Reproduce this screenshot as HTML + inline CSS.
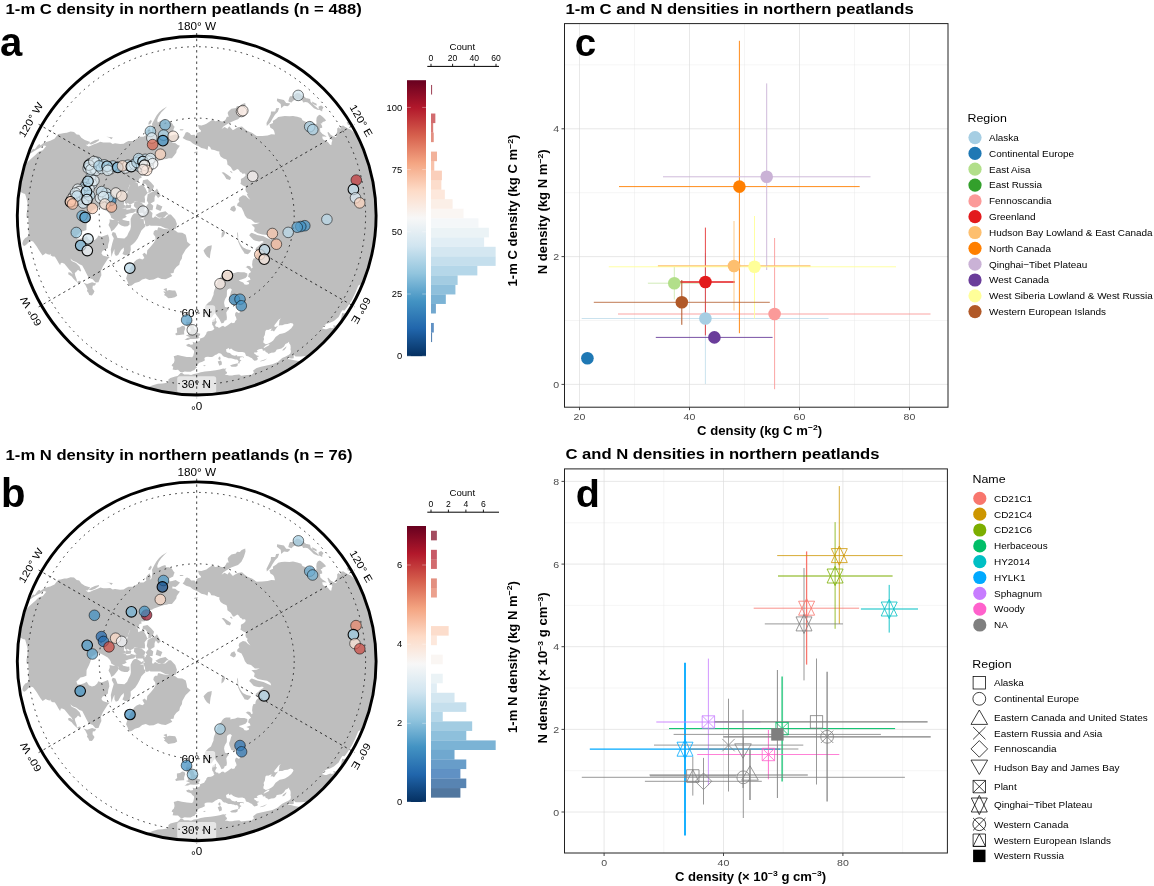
<!DOCTYPE html>
<html lang="en"><head><meta charset="utf-8"><title>Northern peatlands C and N densities</title>
<style>html,body{margin:0;padding:0;background:#fff}svg{display:block}text{filter:grayscale(1)}</style></head>
<body>
<svg width="1154" height="886" viewBox="0 0 1154 886" font-family="'Liberation Sans', Arial, Helvetica, sans-serif">
<defs>
<linearGradient id="rdbu" x1="0" y1="1" x2="0" y2="0"><stop offset="0%" stop-color="#053061"/><stop offset="10%" stop-color="#2166ac"/><stop offset="20%" stop-color="#4393c3"/><stop offset="30%" stop-color="#92c5de"/><stop offset="40%" stop-color="#d1e5f0"/><stop offset="50%" stop-color="#f7f7f7"/><stop offset="60%" stop-color="#fddbc7"/><stop offset="70%" stop-color="#f4a582"/><stop offset="80%" stop-color="#d6604d"/><stop offset="90%" stop-color="#b2182b"/><stop offset="100%" stop-color="#67001f"/></linearGradient>
<clipPath id="mapclip"><circle cx="0" cy="0" r="179.3"/></clipPath>
<g id="land"><g clip-path="url(#mapclip)"><path d="M-55.8,182.4L-53.2,179.7L-51.6,176.4L-53.2,174.1L-49.3,171.9L-43.9,169.7L-38.8,168.2L-34.2,167.9L-29.5,167.1L-28.3,165.6L-28.3,163.8L-26.3,162.3L-21.5,161.0L-19.1,160.5L-16.6,157.9L-16.3,157.3L-14.6,157.3L-12.5,158.9L-8.3,158.9L-5.6,159.4L-2.8,158.3L0.0,158.0L4.1,156.7L8.2,155.9L13.6,155.5L19.0,154.6L23.0,154.0L26.4,152.9L27.8,153.2L29.7,152.7L28.6,154.3L29.2,156.0L30.4,156.4L30.1,157.9L28.1,159.2L30.4,159.4L32.5,159.9L35.5,160.0L37.4,159.4L42.6,159.0L44.4,160.2L50.3,159.4L54.8,159.2L57.2,157.1L56.4,154.9L60.0,152.3L64.2,151.2L70.0,150.0L75.7,148.6L81.1,146.3L83.3,144.3L85.5,142.4L89.0,140.8L92.2,139.2L93.9,137.6L94.2,135.5L93.8,134.0L94.0,131.8L93.7,129.4L92.5,127.8L92.3,126.2L90.9,127.4L88.7,128.5L87.3,130.9L84.7,132.9L80.4,133.8L79.5,134.4L79.5,135.5L77.5,137.0L74.5,137.2L71.7,138.3L70.8,137.1L68.9,136.4L68.5,135.0L66.2,135.1L66.0,134.0L64.9,133.1L62.3,133.6L60.0,134.9L61.1,136.1L59.5,136.8L57.7,136.6L57.4,137.9L59.0,138.9L60.0,139.9L62.5,140.4L61.4,141.1L60.1,141.6L61.1,142.6L60.7,144.5L59.4,144.8L57.7,145.1L56.0,143.7L55.3,142.7L53.6,142.0L51.9,141.0L49.3,140.1L48.5,137.8L47.7,136.9L45.6,136.3L41.7,136.4L38.9,135.7L36.6,134.7L34.4,133.0L32.4,134.0L32.3,132.3L29.4,133.7L29.6,135.9L30.6,136.9L33.2,137.3L35.3,139.4L38.1,140.1L40.5,139.4L40.3,140.6L43.0,140.7L45.8,140.8L47.3,141.5L47.0,142.2L45.7,141.5L43.4,141.8L42.9,143.8L44.8,144.8L43.2,145.9L42.7,147.8L41.6,147.9L41.5,146.6L42.0,145.6L40.4,143.8L38.5,143.9L37.1,143.3L36.2,143.1L34.3,142.7L31.9,142.7L30.7,142.1L28.8,141.3L27.4,141.1L26.0,140.2L25.3,139.2L24.4,138.1L23.0,137.6L21.6,137.6L20.0,138.8L18.4,139.5L17.2,140.4L15.4,141.5L13.4,141.3L11.1,141.2L9.1,141.4L7.7,142.4L8.0,143.8L8.1,144.9L5.6,146.2L2.6,147.1L1.8,147.8L0.0,149.8L-0.8,150.7L0.5,152.0L-1.3,153.0L-2.2,154.5L-4.3,155.1L-6.0,156.2L-9.5,156.1L-12.0,155.9L-14.6,156.9L-16.4,156.5L-17.4,155.4L-18.7,154.2L-21.4,154.3L-24.1,153.9L-23.4,151.2L-25.1,150.1L-24.4,148.7L-22.8,147.2L-22.2,145.0L-22.4,142.9L-23.0,140.7L-20.4,140.0L-18.9,139.5L-14.8,140.4L-9.9,141.3L-7.4,141.5L-4.5,141.6L-3.4,140.2L-2.9,137.9L-2.6,136.4L-2.8,134.9L-4.7,133.4L-5.1,132.4L-6.4,131.6L-9.6,130.6L-10.6,129.3L-7.8,128.2L-6.1,129.1L-4.5,128.9L-3.6,128.7L-4.0,126.1L-2.4,126.9L0.2,126.6L3.3,125.0L3.4,122.9L5.3,122.3L7.4,121.4L8.4,119.8L9.5,118.3L9.8,116.9L11.1,115.7L14.2,115.4L16.1,114.6L17.2,113.6L17.7,113.0L17.0,112.2L16.7,110.6L15.5,109.1L15.4,106.5L15.8,104.7L18.0,102.9L19.2,102.4L19.0,104.5L19.2,105.9L20.4,106.0L19.4,107.6L18.6,108.9L18.5,110.3L19.6,111.2L21.5,111.5L21.9,112.5L23.7,111.6L24.6,110.8L26.4,110.1L28.2,111.4L31.4,109.4L34.7,106.9L36.2,107.6L38.1,106.9L38.4,105.6L39.9,103.9L39.3,101.7L38.3,99.7L38.6,97.4L40.0,96.2L41.7,97.4L43.2,97.0L43.5,95.9L42.5,94.2L42.4,93.0L40.4,92.9L39.7,91.6L41.4,89.9L43.3,88.7L46.5,87.4L47.4,85.5L49.2,84.5L47.0,84.8L45.7,84.1L43.6,85.6L41.0,87.8L38.2,90.0L36.4,89.2L34.7,88.6L33.8,86.4L32.7,83.9L32.4,81.7L33.4,79.4L34.4,75.6L35.2,74.2L34.0,73.0L32.8,72.9L31.2,73.6L30.3,75.0L30.2,76.7L30.2,78.7L30.0,81.0L28.6,83.1L27.7,85.3L27.4,87.4L28.0,90.3L28.3,91.4L30.7,91.9L32.1,93.6L30.9,94.6L29.6,96.9L29.9,99.5L30.2,101.8L29.9,104.3L27.8,105.2L27.3,107.0L24.9,107.9L24.5,107.1L23.8,105.8L22.9,104.0L21.7,102.2L20.0,99.9L19.2,98.6L18.1,96.7L17.9,98.2L16.6,99.3L15.2,101.6L13.0,102.5L10.7,101.6L9.8,100.2L9.0,98.6L8.7,95.9L8.2,94.2L8.0,91.8L8.7,90.2L10.1,88.6L11.5,87.2L12.9,86.1L14.3,85.2L15.0,83.5L15.8,81.5L16.8,79.1L17.0,76.8L17.5,74.8L18.4,72.6L18.7,70.6L19.7,68.7L20.4,66.8L21.1,64.9L21.9,63.7L23.2,62.2L24.5,60.6L25.6,58.8L27.4,56.9L29.3,56.3L31.1,56.1L33.7,56.1L33.7,58.3L35.3,57.7L37.4,57.5L38.5,57.1L40.9,56.3L44.2,56.6L47.6,56.7L50.6,57.8L50.6,60.3L48.8,62.5L44.8,63.9L42.0,64.7L43.4,65.6L46.5,66.9L47.9,68.9L50.2,69.2L52.4,68.3L52.1,66.6L49.6,65.8L51.7,65.0L53.8,64.1L53.1,62.2L51.4,61.2L52.2,58.0L54.4,56.4L52.7,54.2L50.1,51.9L48.8,51.8L51.0,50.1L53.4,50.7L54.8,52.9L56.0,52.2L55.4,49.0L55.8,45.2L56.8,42.8L58.6,42.6L58.9,40.5L59.7,38.8L61.5,37.0L60.8,35.1L58.9,32.6L62.0,30.2L62.8,29.3L64.9,27.6L67.1,26.4L65.5,25.2L62.5,25.9L59.0,25.1L56.9,24.4L54.0,21.3L52.5,19.6L53.8,18.0L55.1,17.1L60.5,19.3L66.8,20.7L71.1,22.8L74.5,24.2L73.7,21.8L70.4,19.5L65.6,18.8L61.0,17.7L57.3,15.3L57.9,12.8L57.8,11.8L54.7,9.0L59.7,8.4L63.1,7.2L58.2,7.1L54.3,3.8L50.4,2.6L48.2,0.0L46.7,-4.1L44.8,-7.9L40.3,-10.0L40.8,-12.1L42.7,-13.9L41.9,-16.1L42.8,-18.2L46.2,-20.4L48.9,-19.8L51.1,-17.6L53.7,-15.9L51.4,-18.7L50.1,-21.3L51.1,-22.2L49.2,-24.0L48.7,-26.4L49.4,-28.5L46.2,-30.0L43.7,-31.8L44.2,-33.3L44.2,-36.5L47.3,-38.3L49.0,-40.4L48.4,-42.1L45.6,-41.8L45.1,-42.8L43.5,-43.5L42.0,-45.9L40.6,-46.7L37.7,-44.9L36.3,-44.8L34.0,-48.6L30.7,-51.1L30.5,-53.9L29.8,-56.1L26.7,-57.2L23.9,-59.2L22.6,-62.1L22.7,-64.1L20.9,-64.3L17.6,-65.7L14.6,-66.0L13.3,-68.6L11.6,-69.5L10.8,-65.5L8.2,-66.8L4.7,-67.5L1.2,-69.9L0.0,-70.2L-3.8,-72.0L-6.5,-74.3L-10.6,-75.5L-14.1,-77.7L-12.6,-79.6L-11.0,-83.2L-9.5,-83.7L-7.2,-82.7L-5.6,-80.7L-2.1,-80.8L-0.7,-78.7L-0.0,-82.4L1.4,-83.0L2.9,-83.6L3.6,-83.3L4.4,-84.8L2.3,-87.0L1.3,-90.6L4.7,-90.2L8.0,-91.2L9.7,-91.9L12.3,-93.7L16.1,-96.2L18.3,-94.3L22.8,-94.8L25.2,-94.2L27.0,-94.0L28.9,-96.2L30.2,-98.8L32.1,-98.8L30.9,-102.5L31.9,-104.3L34.7,-106.9L39.2,-107.7L40.3,-109.6L43.1,-109.4L45.0,-111.3L48.5,-112.7L48.8,-109.7L47.2,-104.5L44.7,-99.5L41.3,-96.3L38.5,-95.3L34.5,-93.7L30.7,-91.6L26.7,-89.1L24.8,-86.6L27.9,-88.5L30.8,-86.9L32.5,-89.4L36.2,-85.4L37.5,-86.2L41.2,-88.4L45.3,-89.0L48.0,-86.6L50.8,-84.6L55.7,-82.5L59.9,-79.5L65.7,-79.7L70.9,-80.2L74.6,-81.4L78.3,-81.1L77.4,-84.5L76.3,-86.3L73.7,-87.8L72.7,-91.1L76.4,-92.6L76.1,-94.6L79.6,-96.9L81.5,-98.6L84.7,-99.2L88.1,-99.6L92.7,-99.4L96.3,-99.7L100.6,-98.8L104.6,-97.6L105.8,-95.3L108.3,-94.2L109.7,-93.7L112.2,-93.5L113.6,-94.3L116.6,-92.7L118.7,-91.4L119.9,-92.0L119.6,-94.8L119.9,-97.8L121.0,-99.7L122.7,-100.8L124.0,-100.4L126.2,-98.6L128.2,-96.6L129.4,-95.0L127.8,-94.2L125.8,-93.5L125.5,-92.2L123.9,-92.3L125.4,-89.5L125.5,-87.9L123.3,-87.3L123.5,-85.2L123.5,-84.0L125.8,-81.7L128.8,-79.9L130.0,-78.7L128.0,-79.1L125.5,-79.0L126.1,-76.4L129.2,-74.6L131.2,-73.6L133.4,-70.9L134.7,-70.7L135.0,-73.3L135.7,-75.2L133.8,-77.2L132.3,-78.9L130.7,-83.2L131.7,-83.6L134.2,-80.6L136.2,-79.6L138.5,-78.4L139.8,-78.5L139.2,-81.4L140.5,-83.7L140.5,-87.1L141.9,-88.3L143.9,-86.4L143.4,-89.6L145.1,-89.6L146.4,-90.0L148.6,-88.6L150.4,-87.6L152.4,-86.6L153.9,-86.0L156.4,-83.9L158.9,-81.7L160.6,-80.1L163.0,-76.0L164.6,-74.0L165.6,-72.0L168.0,-67.9L170.3,-63.7L171.5,-63.5L171.3,-61.7L170.9,-60.5L172.1,-56.9L174.1,-53.2L175.2,-52.6L177.2,-50.8L182.4,-55.8L190.0,-16.6L186.9,-14.1L184.9,-14.6L183.5,-11.2L182.2,-8.0L181.3,-6.3L180.1,-5.0L180.4,-3.1L180.8,-0.9L181.0,3.2L181.2,6.3L181.4,9.5L182.4,10.2L183.0,12.8L183.3,16.0L184.1,19.4L184.9,26.0L185.3,31.0L187.8,33.1L183.8,51.0L179.7,53.2L176.1,54.5L173.8,54.1L172.2,54.3L173.3,55.7L172.5,59.4L171.1,62.3L168.6,64.7L168.8,61.4L166.8,65.7L164.8,68.3L162.9,69.2L161.5,70.2L158.6,77.3L155.2,84.3L151.0,90.7L147.9,94.9L145.7,94.6L144.3,96.6L141.9,101.3L137.2,105.3L132.8,107.5L129.7,108.1L126.9,110.3L125.5,113.0L128.3,113.6L129.8,113.6L133.6,112.1L135.1,112.6L137.3,112.0L136.5,109.7L138.9,110.1L141.1,108.3L143.9,104.5L144.9,100.4L145.5,97.4L147.3,97.9L149.4,97.0L152.5,93.1L155.7,90.6L156.2,94.6L155.8,98.5L154.2,104.0L156.2,109.4L131.3,138.4L126.8,137.4L121.0,139.2L114.7,140.6L109.7,140.4L104.3,140.9L98.8,141.0L97.1,139.2L97.0,142.2L97.0,142.7L95.0,143.0L91.1,142.4L90.9,143.3L94.1,143.8L97.6,144.7L101.8,145.4L104.1,145.4L109.2,144.9L111.7,146.7L115.4,145.1L120.0,148.2L65.2,179.2L0.0,190.7ZM-189.3,-23.2L-186.7,-19.6L-184.6,-29.2L-182.1,-37.1L-179.1,-44.7L-176.1,-48.8L-175.0,-47.9L-172.5,-49.5L-168.1,-54.6L-164.5,-57.9L-161.6,-60.4L-158.1,-63.9L-153.9,-65.3L-150.4,-69.5L-152.6,-70.2L-156.4,-68.0L-159.8,-66.2L-163.1,-64.2L-166.2,-62.1L-169.0,-59.8L-168.8,-61.4L-166.3,-63.8L-163.6,-66.8L-161.9,-66.4L-158.7,-70.7L-157.0,-71.5L-156.3,-70.2L-152.7,-72.8L-148.8,-74.2L-146.4,-74.9L-142.2,-76.9L-138.5,-81.6L-136.1,-81.8L-132.4,-82.7L-129.9,-82.8L-126.1,-84.1L-122.7,-83.7L-120.0,-81.2L-117.5,-80.8L-115.3,-77.8L-111.9,-75.5L-106.4,-73.7L-109.0,-70.8L-111.1,-70.8L-108.3,-69.0L-106.4,-69.6L-103.3,-71.0L-99.7,-72.4L-96.3,-73.9L-93.5,-73.1L-90.1,-73.0L-86.4,-73.2L-84.0,-71.7L-81.7,-72.3L-76.6,-71.5L-73.1,-71.8L-70.8,-73.3L-68.2,-74.5L-63.7,-74.6L-60.0,-76.8L-56.3,-78.9L-53.2,-78.9L-50.4,-80.7L-50.9,-83.1L-49.5,-85.7L-47.2,-88.0L-45.8,-84.4L-47.0,-81.4L-45.1,-83.1L-44.7,-86.0L-44.3,-88.8L-44.7,-91.6L-42.6,-95.7L-40.3,-99.8L-37.6,-103.3L-34.5,-106.1L-29.6,-109.0L-32.5,-106.2L-35.5,-103.1L-38.1,-99.2L-39.5,-95.5L-39.0,-93.2L-37.0,-94.0L-34.6,-95.2L-31.3,-96.3L-30.6,-94.1L-27.9,-94.0L-24.9,-92.8L-23.3,-90.1L-22.1,-88.8L-23.1,-86.4L-23.5,-84.7L-25.6,-83.8L-28.3,-82.3L-27.4,-79.7L-24.5,-80.3L-21.0,-81.3L-19.2,-80.1L-16.7,-78.8L-19.0,-76.1L-21.3,-74.4L-24.3,-74.8L-24.4,-72.8L-21.5,-72.5L-18.9,-70.6L-16.8,-69.8L-18.2,-67.8L-20.0,-65.3L-20.4,-62.8L-22.5,-60.1L-24.8,-57.4L-28.0,-57.3L-30.1,-56.6L-32.5,-56.4L-36.0,-55.4L-39.2,-54.0L-42.8,-52.8L-44.8,-51.5L-47.7,-51.1L-47.9,-48.7L-49.1,-47.4L-50.0,-45.1L-50.8,-42.7L-51.4,-40.9L-52.1,-40.0L-55.6,-39.7L-55.0,-37.8L-57.3,-37.2L-58.0,-34.8L-61.7,-32.8L-63.4,-30.2L-66.2,-29.5L-66.8,-31.1L-68.3,-27.6L-68.9,-25.1L-71.0,-23.1L-73.3,-23.1L-70.5,-21.5L-69.5,-19.3L-70.9,-17.7L-72.1,-15.3L-72.6,-12.8L-72.9,-10.9L-70.8,-9.9L-71.6,-8.8L-72.0,-7.6L-74.9,-7.2L-69.5,-7.3L-66.3,-7.5L-62.2,-6.5L-60.4,-4.8L-63.4,-2.8L-66.7,-2.3L-68.3,-1.8L-71.5,-0.6L-69.9,1.2L-72.1,2.5L-74.6,3.3L-73.5,4.5L-69.0,5.4L-67.4,5.3L-67.1,8.8L-69.1,10.6L-72.2,10.8L-75.5,9.9L-78.0,8.2L-78.2,5.5L-80.7,4.9L-82.9,3.6L-85.5,2.2L-86.1,0.0L-87.0,-1.5L-89.0,-3.9L-92.0,-5.6L-95.7,-7.5L-100.1,-8.4L-100.7,-7.4L-105.2,-4.6L-106.2,0.0L-107.6,3.8L-110.1,8.7L-110.3,14.5L-113.6,15.6L-116.2,16.3L-118.6,18.8L-120.3,20.1L-119.2,23.2L-116.4,23.1L-112.5,21.9L-110.0,20.4L-107.8,23.9L-104.7,25.1L-101.9,24.5L-99.5,22.1L-98.4,20.0L-95.2,21.1L-92.4,20.1L-88.7,18.8L-87.7,21.9L-87.4,25.1L-88.5,28.8L-88.8,32.3L-91.3,34.1L-94.1,35.2L-95.3,37.6L-93.8,39.8L-90.1,41.0L-86.9,41.5L-89.0,43.4L-91.7,47.7L-93.8,50.9L-95.7,55.2L-95.3,59.6L-96.8,62.9L-98.2,66.7L-101.2,67.0L-104.0,63.7L-107.9,62.3L-110.0,58.5L-112.4,53.6L-114.5,49.8L-117.2,48.6L-120.6,46.3L-123.8,45.1L-126.4,43.0L-125.0,45.5L-120.7,47.5L-117.1,50.9L-115.5,55.1L-116.4,56.0L-118.7,54.1L-120.1,56.0L-121.9,57.4L-121.5,59.8L-120.0,63.8L-119.8,66.4L-117.4,65.1L-115.5,65.9L-117.1,68.1L-120.0,66.5L-123.5,62.9L-125.0,61.0L-128.5,58.6L-128.3,56.6L-126.4,56.8L-123.8,59.0L-125.5,55.9L-127.4,54.1L-129.8,51.1L-132.3,48.1L-134.6,47.1L-135.8,47.3L-136.6,49.7L-138.1,47.5L-139.9,44.1L-141.8,41.2L-142.5,40.9L-144.1,41.0L-146.2,39.7L-145.8,38.2L-147.1,39.1L-149.2,38.6L-151.1,37.7L-152.0,38.5L-154.1,39.8L-155.9,37.4L-158.0,34.2L-159.8,31.1L-161.8,28.5L-163.7,25.9L-166.1,25.1L-168.7,27.3L-170.5,29.1L-172.2,30.4L-173.8,29.7L-174.3,27.6L-173.5,25.0L-171.5,22.3L-169.5,21.4L-168.1,19.2L-168.0,16.8L-168.7,13.3L-167.9,10.3L-168.3,5.9L-168.5,1.5L-170.2,2.1L-170.2,-1.5L-169.4,-5.9L-169.0,-11.2L-169.5,-14.2L-170.4,-17.9L-171.6,-21.7L-173.8,-22.3L-176.5,-23.9L-178.7,-24.5L-180.9,-22.8L-182.9,-20.2L-184.1,-16.1L-184.7,-12.9L-184.7,-6.4L-184.1,-3.2L-182.6,-1.6L-181.9,-1.0L-181.4,4.7L-181.2,9.5L-182.4,10.2L-184.2,8.0L-186.4,6.5L-190.7,5.0ZM-38.1,11.7L-32.9,13.3L-29.2,13.6L-25.4,13.5L-21.4,15.0L-18.9,17.0L-14.4,17.2L-11.0,19.1L-10.1,22.6L-9.5,26.1L-7.5,27.8L-6.1,28.9L-9.1,31.9L-11.0,33.8L-12.7,36.8L-14.4,39.7L-14.8,43.0L-16.7,45.9L-17.4,49.1L-20.3,51.5L-22.4,54.2L-23.2,57.4L-26.3,57.8L-24.4,60.4L-26.8,61.7L-31.1,63.7L-35.1,63.3L-38.7,61.9L-43.1,63.9L-47.5,64.3L-50.9,62.8L-54.5,63.8L-57.5,66.1L-61.8,67.5L-65.1,69.8L-67.9,70.3L-68.9,66.5L-70.6,62.9L-69.6,59.5L-68.0,55.7L-66.6,52.6L-64.7,50.0L-62.5,46.3L-60.1,44.2L-57.1,43.0L-54.3,44.0L-52.3,42.4L-54.3,38.7L-52.2,37.2L-50.0,39.1L-49.4,34.6L-45.9,31.0L-43.1,27.5L-41.2,24.3L-41.4,21.1L-43.4,18.4L-42.8,15.6L-40.8,14.1L-39.5,14.8L-38.7,12.2ZM-33.3,73.7L-30.0,72.4L-29.6,75.2L-27.5,74.4L-24.3,74.8L-21.5,75.0L-20.3,77.3L-19.5,80.1L-21.9,81.7L-25.2,82.3L-28.4,82.6L-30.9,80.4L-32.8,79.3L-31.6,78.1L-33.5,76.0L-30.6,75.8ZM-12.4,124.5L-8.7,124.3L-6.5,123.3L-3.2,123.5L0.6,123.2L3.0,122.2L1.7,121.4L3.3,119.5L3.5,118.1L0.6,117.4L0.4,116.0L-0.4,114.6L-2.4,112.9L-3.1,110.4L-4.2,109.0L-5.7,108.6L-4.7,107.5L-3.7,105.3L-3.3,104.4L-6.4,104.0L-7.3,104.2L-5.7,101.7L-8.9,101.2L-10.0,103.4L-10.7,105.7L-10.4,108.0L-10.8,110.2L-9.2,109.8L-9.8,112.0L-6.8,111.9L-6.0,114.5L-6.1,116.1L-9.1,116.2L-8.8,117.6L-8.3,119.0L-10.9,119.8L-8.4,120.8L-6.4,121.8L-7.5,122.0L-9.6,122.3L-11.3,124.0ZM-12.5,118.9L-12.6,115.9L-11.4,112.7L-12.2,110.6L-14.5,110.1L-16.7,111.7L-19.8,112.3L-19.8,114.8L-19.5,116.8L-21.5,118.1L-20.7,119.6L-17.4,119.3L-13.6,119.0ZM6.8,34.9L8.8,32.7L11.1,30.6L15.1,29.6L14.7,33.1L13.9,36.3L13.4,40.0L13.1,42.9L10.2,41.0L8.1,38.0ZM47.7,37.9L51.2,38.6L53.4,36.7L54.4,34.6L50.0,33.7L46.2,31.7L43.7,28.4L41.4,23.9L41.5,20.2L41.1,16.2L40.4,18.0L40.8,21.7L41.4,25.9L42.9,29.5L45.0,33.3L47.5,37.1ZM37.0,-3.9L33.3,-5.9L34.5,-8.6L37.6,-10.1L39.3,-6.9L38.6,-4.7ZM33.3,-35.7L29.7,-36.7L27.3,-40.5L24.9,-43.1L27.1,-43.4L31.5,-40.3L34.4,-38.2ZM35.6,-42.4L33.1,-44.0L34.3,-44.7L35.6,-43.2ZM1.7,-63.5L-2.2,-62.2L-2.8,-63.4L0.0,-64.1ZM24.7,22.2L25.0,17.5L26.9,14.3L28.7,16.6L26.7,20.8ZM70.1,-89.7L69.8,-92.6L71.7,-96.3L74.0,-101.1L74.3,-104.2L78.5,-104.2L79.4,-107.3L82.5,-107.5L81.1,-103.8L78.4,-101.1L75.6,-96.7L73.6,-93.2L71.7,-91.2ZM93.3,-112.4L89.5,-112.5L87.2,-115.7L80.4,-117.0L80.2,-114.5L84.0,-111.5L84.5,-107.4L87.3,-109.8L90.8,-109.4L92.7,-110.5ZM91.6,-114.3L92.4,-117.4L93.3,-119.4L96.7,-119.4L98.3,-121.3L100.1,-122.7L102.7,-122.4L104.4,-120.9L106.2,-120.1L109.5,-117.4L110.3,-117.4L113.4,-116.6L113.9,-113.9L116.8,-110.9L120.1,-108.2L122.0,-106.1L121.9,-109.0L124.5,-110.2L126.8,-108.3L125.6,-106.2L125.5,-104.2L122.5,-105.8L121.4,-105.6L117.2,-107.4L114.2,-110.3L111.1,-113.1L108.9,-113.6L106.3,-113.2L105.9,-114.8L102.6,-116.0L99.1,-116.0L96.3,-114.8L94.9,-113.1L92.7,-113.7ZM119.9,-109.9L115.9,-111.9L115.2,-114.0L117.2,-113.2L119.9,-111.8ZM151.2,-90.9L149.9,-93.7L152.5,-93.4L155.3,-92.6L155.1,-90.3L153.1,-90.2ZM-113.1,67.1L-109.6,68.5L-104.6,66.6L-100.6,67.9L-101.8,70.0L-103.9,70.1L-104.2,72.9L-102.2,75.6L-103.2,77.8L-104.8,79.8L-107.5,79.5L-108.3,77.2L-109.8,75.5L-109.2,73.7L-111.3,69.5ZM-108.0,-71.5L-105.2,-73.7L-101.8,-75.3L-97.7,-76.4L-97.8,-75.0L-101.6,-72.5L-105.4,-71.1ZM-90.6,-78.8L-87.2,-78.5L-83.8,-78.2L-85.4,-76.4L-87.5,-78.2ZM-45.7,-95.9L-47.8,-93.9L-48.5,-91.2L-46.5,-91.3L-44.9,-94.0ZM-12.9,-86.4L-16.8,-86.3L-16.9,-85.4L-14.3,-85.2ZM-180.2,15.8L-178.2,21.9L-176.8,29.6L-176.2,37.5L-176.4,44.0L-176.1,49.8L-179.0,39.7L-178.4,37.9L-178.3,31.4L-178.5,25.1L-180.1,18.9ZM-85.3,41.5L-85.9,33.8L-84.4,27.6L-82.9,22.7L-85.0,18.8L-84.0,16.5L-81.3,17.1L-79.2,22.5L-75.4,22.6L-72.3,22.9L-69.6,20.5L-68.2,17.1L-66.4,13.8L-65.8,10.9L-66.0,7.5L-66.1,3.4L-64.5,-0.0L-62.7,-2.1L-58.2,-2.7L-54.0,-2.8L-52.0,1.1L-52.3,1.6L-56.8,3.2L-52.9,3.4L-51.8,6.0L-51.6,7.7L-51.3,11.0L-53.2,12.7L-55.3,15.0L-57.0,18.7L-59.1,22.8L-61.4,26.2L-63.7,28.3L-66.1,30.2L-65.9,34.1L-67.1,38.2L-68.0,39.5L-71.6,39.6L-74.3,38.3L-72.8,34.8L-72.9,31.8L-75.7,34.4L-78.5,39.4L-80.8,40.4L-82.2,38.1L-82.3,33.4L-84.2,38.0ZM-80.9,3.4L-78.0,6.6L-78.9,9.2L-82.7,14.0L-85.4,15.8L-86.3,12.8L-88.2,9.3L-87.0,6.4L-87.1,3.7L-83.8,4.4ZM-71.7,-12.5L-71.8,-17.5L-69.6,-21.9L-69.0,-25.1L-66.9,-30.4L-62.6,-32.8L-59.1,-33.2L-58.4,-29.1L-54.1,-31.0L-51.7,-32.1L-48.2,-27.9L-48.3,-23.7L-52.1,-19.0L-51.7,-16.1L-51.8,-12.8L-54.9,-13.0L-61.1,-13.9L-66.0,-11.3L-68.4,-10.3ZM-49.2,-36.4L-53.8,-35.4L-54.2,-31.7L-51.2,-27.0L-49.5,-23.3L-46.4,-23.1L-43.7,-26.2L-42.6,-29.5L-45.6,-33.0ZM-62.1,-14.3L-62.9,-9.7L-58.8,-5.3L-52.5,-6.0L-51.1,-9.2L-55.2,-12.9ZM-61.6,-6.7L-60.5,-2.8L-54.9,1.0L-52.0,-2.3L-52.2,-5.8L-56.9,-6.2ZM-69.1,-12.6L-71.9,-8.7L-70.0,-5.9L-66.3,-6.3L-65.4,-10.4ZM-48.6,-7.2L-52.7,-2.9L-53.2,1.8L-52.7,7.7L-50.1,10.8L-47.2,9.8L-44.7,5.7L-44.6,0.5L-44.2,-2.6L-46.6,-4.8ZM-47.5,-0.1L-47.9,5.6L-46.4,10.1L-40.3,10.1L-36.2,10.3L-31.4,12.6L-26.7,13.6L-21.0,13.4L-19.8,8.4L-21.4,3.8L-25.8,-1.0L-29.8,-1.0L-32.5,1.7L-37.6,2.8L-41.6,0.6L-43.5,2.4ZM-31.2,-4.3L-27.8,-1.1L-31.4,2.2L-38.2,2.0L-41.3,-0.6L-36.7,-3.1ZM-43.8,-24.2L-49.0,-21.4L-49.9,-15.2L-47.8,-11.5L-45.2,-12.5L-42.2,-14.4L-42.1,-18.4L-40.2,-22.4ZM-47.5,-13.3L-50.9,-8.9L-49.0,-5.4L-44.2,-5.3L-43.4,-9.9ZM-39.7,-27.1L-42.9,-23.6L-38.6,-17.7L-36.0,-19.8ZM-39.8,-11.7L-41.0,-6.5L-36.2,-4.7L-34.3,-9.2ZM-50.6,-6.4L-50.9,-2.5L-47.9,-2.9L-47.7,-5.4ZM33.3,150.0L35.8,149.0L41.2,147.6L40.8,150.3L39.1,151.2L34.9,151.1ZM21.0,145.9L23.7,144.8L25.0,146.2L25.2,149.0L22.7,150.1L21.9,148.2ZM21.5,142.4L23.3,140.7L23.9,142.9L23.4,144.4L22.0,143.9ZM63.6,145.5L67.2,144.1L70.6,142.8L67.6,144.9L63.8,146.0ZM85.4,135.0L86.6,133.3L89.8,130.7L89.3,132.4L87.4,134.6ZM6.3,150.1L8.4,149.4L8.9,150.2L7.4,150.7Z" fill="#bebebe"/><path d="M71.3,128.1L74.5,126.4L76.5,124.9L78.9,121.5L83.0,118.5L85.7,118.0L88.3,117.2L91.6,115.2L94.6,112.7L96.8,109.4L96.1,107.9L93.9,107.3L90.9,108.4L88.0,108.6L85.6,109.6L83.6,109.7L82.0,110.0L82.5,107.5L82.7,104.8L84.1,102.7L81.9,104.1L80.2,106.4L77.9,109.3L77.4,110.6L78.8,111.3L81.4,110.1L79.9,112.1L78.5,114.2L77.3,115.9L75.8,114.9L73.8,115.3L75.1,113.0L73.6,113.4L71.5,114.5L70.0,114.2L68.7,115.3L68.4,117.5L68.1,119.4L66.9,121.7L67.4,123.6L66.7,125.5L66.7,127.1L68.0,128.0L69.0,128.7ZM67.4,132.3L72.0,129.9L73.0,128.4L71.1,128.8L69.1,129.9L68.1,130.7L66.8,132.2Z" fill="#ffffff"/></g></g>
</defs>
<rect width="1154" height="886" fill="#ffffff"/>
<text transform="translate(5.6,13.900000000000006) scale(1.172,1)" font-size="14.2" font-weight="bold">1-m C density in northern peatlands (n = 488)</text>
<text transform="translate(0,56.29999999999998)" font-size="40" font-weight="bold">a</text>
<use href="#land" transform="translate(196.7,215.6)"/>
<rect x="178.2" y="305.3" width="37" height="16.6" rx="2.5" fill="#fff" fill-opacity="0.62"/>
<text transform="translate(196.2,317.3) scale(1.14,1)" font-size="10.3" text-anchor="middle">60° N</text>
<rect x="177.2" y="376.3" width="39" height="16.6" rx="2.5" fill="#fff" fill-opacity="0.62"/>
<text transform="translate(196.2,388.3) scale(1.14,1)" font-size="10.3" text-anchor="middle">30° N</text>
<circle cx="196.7" cy="215.6" r="168.9" stroke="#000" stroke-width="0.8" stroke-dasharray="1.6,4.4" fill="none"/>
<circle cx="196.7" cy="215.6" r="97.5" stroke="#000" stroke-width="0.8" stroke-dasharray="1.6,4.4" fill="none"/>
<line x1="196.7" y1="33.0" x2="196.7" y2="398.2" stroke="#000" stroke-width="0.75" stroke-dasharray="2.4,3.3" fill="none"/>
<line x1="38.6" y1="124.3" x2="354.8" y2="306.9" stroke="#000" stroke-width="0.75" stroke-dasharray="2.4,3.3" fill="none"/>
<line x1="38.6" y1="306.9" x2="354.8" y2="124.3" stroke="#000" stroke-width="0.75" stroke-dasharray="2.4,3.3" fill="none"/>
<circle cx="110.8" cy="200.4" r="5.3" fill="#3c8abe" fill-opacity="0.72" stroke="#000" stroke-opacity="0.7" stroke-width="0.75"/>
<circle cx="90.5" cy="163.5" r="5.3" fill="#d6e8f1" fill-opacity="0.72" stroke="#000" stroke-opacity="0.7" stroke-width="0.75"/>
<circle cx="92.2" cy="166.8" r="5.3" fill="#cfe4ef" fill-opacity="0.72" stroke="#000" stroke-opacity="0.7" stroke-width="0.75"/>
<circle cx="95.5" cy="163.2" r="5.3" fill="#e4eef4" fill-opacity="0.72" stroke="#000" stroke-opacity="0.7" stroke-width="0.75"/>
<circle cx="88.2" cy="168.3" r="5.3" fill="#dae9f2" fill-opacity="0.72" stroke="#000" stroke-opacity="0.7" stroke-width="0.75"/>
<circle cx="94.8" cy="168.9" r="5.3" fill="#c9e1ee" fill-opacity="0.72" stroke="#000" stroke-opacity="0.7" stroke-width="0.75"/>
<circle cx="97.2" cy="162.4" r="5.3" fill="#b8d8e9" fill-opacity="0.72" stroke="#000" stroke-opacity="0.7" stroke-width="0.75"/>
<circle cx="96.0" cy="170.5" r="5.3" fill="#e1ecf3" fill-opacity="0.72" stroke="#000" stroke-opacity="0.7" stroke-width="0.75"/>
<circle cx="101.5" cy="168.5" r="5.3" fill="#d3e6f0" fill-opacity="0.72" stroke="#000" stroke-opacity="0.7" stroke-width="0.75"/>
<circle cx="104.2" cy="164.8" r="5.3" fill="#bedbea" fill-opacity="0.72" stroke="#000" stroke-opacity="0.7" stroke-width="0.75"/>
<circle cx="110.5" cy="168.8" r="5.3" fill="#dae9f2" fill-opacity="0.72" stroke="#000" stroke-opacity="0.7" stroke-width="0.75"/>
<circle cx="113.0" cy="166.0" r="5.3" fill="#add3e6" fill-opacity="0.72" stroke="#000" stroke-opacity="0.7" stroke-width="0.75"/>
<circle cx="125.3" cy="168.0" r="5.3" fill="#ebf1f5" fill-opacity="0.72" stroke="#000" stroke-opacity="0.7" stroke-width="0.75"/>
<circle cx="128.0" cy="165.2" r="5.3" fill="#cfe4ef" fill-opacity="0.72" stroke="#000" stroke-opacity="0.7" stroke-width="0.75"/>
<circle cx="134.5" cy="164.2" r="5.3" fill="#c9e1ee" fill-opacity="0.72" stroke="#000" stroke-opacity="0.7" stroke-width="0.75"/>
<circle cx="140.2" cy="160.2" r="5.3" fill="#d3e6f0" fill-opacity="0.72" stroke="#000" stroke-opacity="0.7" stroke-width="0.75"/>
<circle cx="141.5" cy="164.0" r="5.3" fill="#dae9f2" fill-opacity="0.72" stroke="#000" stroke-opacity="0.7" stroke-width="0.75"/>
<circle cx="146.5" cy="162.0" r="5.3" fill="#e4eef4" fill-opacity="0.72" stroke="#000" stroke-opacity="0.7" stroke-width="0.75"/>
<circle cx="148.2" cy="166.8" r="5.3" fill="#f5f6f7" fill-opacity="0.72" stroke="#000" stroke-opacity="0.7" stroke-width="0.75"/>
<circle cx="139.6" cy="166.5" r="5.3" fill="#bedbea" fill-opacity="0.72" stroke="#000" stroke-opacity="0.7" stroke-width="0.75"/>
<circle cx="145.2" cy="159.3" r="5.3" fill="#c3deec" fill-opacity="0.72" stroke="#000" stroke-opacity="0.7" stroke-width="0.75"/>
<circle cx="149.0" cy="161.2" r="5.3" fill="#d6e8f1" fill-opacity="0.72" stroke="#000" stroke-opacity="0.7" stroke-width="0.75"/>
<circle cx="90.5" cy="178.2" r="5.3" fill="#c3deec" fill-opacity="0.72" stroke="#000" stroke-opacity="0.7" stroke-width="0.75"/>
<circle cx="86.2" cy="184.3" r="5.3" fill="#d3e6f0" fill-opacity="0.72" stroke="#000" stroke-opacity="0.7" stroke-width="0.75"/>
<circle cx="91.8" cy="184.0" r="5.3" fill="#dae9f2" fill-opacity="0.72" stroke="#000" stroke-opacity="0.7" stroke-width="0.75"/>
<circle cx="84.3" cy="187.5" r="5.3" fill="#b8d8e9" fill-opacity="0.72" stroke="#000" stroke-opacity="0.7" stroke-width="0.75"/>
<circle cx="89.0" cy="188.6" r="5.3" fill="#e4eef4" fill-opacity="0.72" stroke="#000" stroke-opacity="0.7" stroke-width="0.75"/>
<circle cx="82.5" cy="190.2" r="5.3" fill="#cfe4ef" fill-opacity="0.72" stroke="#000" stroke-opacity="0.7" stroke-width="0.75"/>
<circle cx="80.8" cy="194.0" r="5.3" fill="#e1ecf3" fill-opacity="0.72" stroke="#000" stroke-opacity="0.7" stroke-width="0.75"/>
<circle cx="84.0" cy="195.5" r="5.3" fill="#c9e1ee" fill-opacity="0.72" stroke="#000" stroke-opacity="0.7" stroke-width="0.75"/>
<circle cx="77.8" cy="189.2" r="5.3" fill="#e8f0f4" fill-opacity="0.72" stroke="#000" stroke-opacity="0.7" stroke-width="0.75"/>
<circle cx="73.5" cy="196.5" r="5.3" fill="#dae9f2" fill-opacity="0.72" stroke="#000" stroke-opacity="0.7" stroke-width="0.75"/>
<circle cx="78.6" cy="199.2" r="5.3" fill="#d3e6f0" fill-opacity="0.72" stroke="#000" stroke-opacity="0.7" stroke-width="0.75"/>
<circle cx="75.0" cy="200.5" r="5.3" fill="#eef3f5" fill-opacity="0.72" stroke="#000" stroke-opacity="0.7" stroke-width="0.75"/>
<circle cx="71.8" cy="199.0" r="5.3" fill="#f9ece4" fill-opacity="0.72" stroke="#000" stroke-opacity="0.7" stroke-width="0.75"/>
<circle cx="83.2" cy="203.0" r="5.3" fill="#d6e8f1" fill-opacity="0.72" stroke="#000" stroke-opacity="0.7" stroke-width="0.75"/>
<circle cx="89.5" cy="195.5" r="5.3" fill="#bedbea" fill-opacity="0.72" stroke="#000" stroke-opacity="0.7" stroke-width="0.75"/>
<circle cx="106.2" cy="193.5" r="5.3" fill="#cfe4ef" fill-opacity="0.72" stroke="#000" stroke-opacity="0.7" stroke-width="0.75"/>
<circle cx="100.4" cy="198.0" r="5.3" fill="#e4eef4" fill-opacity="0.72" stroke="#000" stroke-opacity="0.7" stroke-width="0.75"/>
<circle cx="108.0" cy="197.6" r="5.3" fill="#b2d5e7" fill-opacity="0.72" stroke="#000" stroke-opacity="0.7" stroke-width="0.75"/>
<circle cx="165.1" cy="124.8" r="5.3" fill="#7bb6d6" fill-opacity="0.72" stroke="#000" stroke-opacity="0.7" stroke-width="0.75"/>
<circle cx="150.4" cy="131.4" r="5.3" fill="#9ccae1" fill-opacity="0.72" stroke="#000" stroke-opacity="0.7" stroke-width="0.75"/>
<circle cx="163.6" cy="135.1" r="5.3" fill="#a1cde2" fill-opacity="0.72" stroke="#000" stroke-opacity="0.7" stroke-width="0.75"/>
<circle cx="173.1" cy="136.3" r="5.3" fill="#fbe7db" fill-opacity="0.72" stroke="#000" stroke-opacity="0.7" stroke-width="0.75"/>
<circle cx="151.8" cy="138" r="5.3" fill="#e4eef4" fill-opacity="0.72" stroke="#000" stroke-opacity="0.7" stroke-width="0.75"/>
<circle cx="162.9" cy="140.7" r="5.3" fill="#4292c3" fill-opacity="0.72" stroke="#000" stroke-opacity="0.95" stroke-width="1.1"/>
<circle cx="152.6" cy="144.6" r="5.3" fill="#d86551" fill-opacity="0.72" stroke="#000" stroke-opacity="0.7" stroke-width="0.75"/>
<circle cx="160.4" cy="154.2" r="5.3" fill="#fcd4be" fill-opacity="0.72" stroke="#000" stroke-opacity="0.7" stroke-width="0.75"/>
<circle cx="89" cy="165.2" r="5.3" fill="#d3e6f0" fill-opacity="0.72" stroke="#000" stroke-opacity="0.95" stroke-width="1.1"/>
<circle cx="91" cy="169.6" r="5.3" fill="#ddebf2" fill-opacity="0.72" stroke="#000" stroke-opacity="0.7" stroke-width="0.75"/>
<circle cx="93.9" cy="161.5" r="5.3" fill="#e4eef4" fill-opacity="0.72" stroke="#000" stroke-opacity="0.7" stroke-width="0.75"/>
<circle cx="99" cy="165.9" r="5.3" fill="#add3e6" fill-opacity="0.72" stroke="#000" stroke-opacity="0.7" stroke-width="0.75"/>
<circle cx="107.1" cy="166.3" r="5.3" fill="#9ccae1" fill-opacity="0.72" stroke="#000" stroke-opacity="0.95" stroke-width="1.1"/>
<circle cx="107.8" cy="170.3" r="5.3" fill="#ddebf2" fill-opacity="0.72" stroke="#000" stroke-opacity="0.7" stroke-width="0.75"/>
<circle cx="117.8" cy="167.4" r="5.3" fill="#7bb6d6" fill-opacity="0.72" stroke="#000" stroke-opacity="0.95" stroke-width="1.1"/>
<circle cx="122.5" cy="165.9" r="5.3" fill="#fcdfce" fill-opacity="0.72" stroke="#000" stroke-opacity="0.7" stroke-width="0.75"/>
<circle cx="131.3" cy="166.6" r="5.3" fill="#d6e8f1" fill-opacity="0.72" stroke="#000" stroke-opacity="0.95" stroke-width="1.1"/>
<circle cx="137" cy="162.5" r="5.3" fill="#b8d8e9" fill-opacity="0.72" stroke="#000" stroke-opacity="0.7" stroke-width="0.75"/>
<circle cx="138.6" cy="158.6" r="5.3" fill="#b8d8e9" fill-opacity="0.72" stroke="#000" stroke-opacity="0.7" stroke-width="0.75"/>
<circle cx="143" cy="161.5" r="5.3" fill="#c3deec" fill-opacity="0.72" stroke="#000" stroke-opacity="0.95" stroke-width="1.1"/>
<circle cx="150.4" cy="158.6" r="5.3" fill="#ddebf2" fill-opacity="0.72" stroke="#000" stroke-opacity="0.7" stroke-width="0.75"/>
<circle cx="152.6" cy="163.7" r="5.3" fill="#f2f5f6" fill-opacity="0.72" stroke="#000" stroke-opacity="0.7" stroke-width="0.75"/>
<circle cx="144.5" cy="165.2" r="5.3" fill="#f8f1ec" fill-opacity="0.72" stroke="#000" stroke-opacity="0.95" stroke-width="1.1"/>
<circle cx="146.7" cy="170.3" r="5.3" fill="#fce2d2" fill-opacity="0.72" stroke="#000" stroke-opacity="0.7" stroke-width="0.75"/>
<circle cx="143" cy="169.6" r="5.3" fill="#f9ece4" fill-opacity="0.72" stroke="#000" stroke-opacity="0.7" stroke-width="0.75"/>
<circle cx="93.9" cy="180.6" r="5.3" fill="#e4eef4" fill-opacity="0.72" stroke="#000" stroke-opacity="0.7" stroke-width="0.75"/>
<circle cx="88" cy="181.3" r="5.3" fill="#add3e6" fill-opacity="0.72" stroke="#000" stroke-opacity="0.95" stroke-width="1.1"/>
<circle cx="79.2" cy="191.6" r="5.3" fill="#ebf1f5" fill-opacity="0.72" stroke="#000" stroke-opacity="0.7" stroke-width="0.75"/>
<circle cx="75.5" cy="193" r="5.3" fill="#ddebf2" fill-opacity="0.72" stroke="#000" stroke-opacity="0.7" stroke-width="0.75"/>
<circle cx="86.5" cy="191.6" r="5.3" fill="#add3e6" fill-opacity="0.72" stroke="#000" stroke-opacity="0.95" stroke-width="1.1"/>
<circle cx="77" cy="196" r="5.3" fill="#c3deec" fill-opacity="0.72" stroke="#000" stroke-opacity="0.7" stroke-width="0.75"/>
<circle cx="87" cy="199.6" r="5.3" fill="#d6e8f1" fill-opacity="0.72" stroke="#000" stroke-opacity="0.95" stroke-width="1.1"/>
<circle cx="70.4" cy="201.8" r="5.3" fill="#facab2" fill-opacity="0.72" stroke="#000" stroke-opacity="0.95" stroke-width="1.1"/>
<circle cx="72.6" cy="204" r="5.3" fill="#f9c1a5" fill-opacity="0.72" stroke="#000" stroke-opacity="0.7" stroke-width="0.75"/>
<circle cx="92.4" cy="208.4" r="5.3" fill="#facab2" fill-opacity="0.72" stroke="#000" stroke-opacity="0.7" stroke-width="0.75"/>
<circle cx="82.1" cy="215.8" r="5.3" fill="#6cadd1" fill-opacity="0.72" stroke="#000" stroke-opacity="0.7" stroke-width="0.75"/>
<circle cx="85.1" cy="217.4" r="5.3" fill="#57a0ca" fill-opacity="0.72" stroke="#000" stroke-opacity="0.95" stroke-width="1.1"/>
<circle cx="101.7" cy="191.6" r="5.3" fill="#c3deec" fill-opacity="0.72" stroke="#000" stroke-opacity="0.7" stroke-width="0.75"/>
<circle cx="103.4" cy="196.7" r="5.3" fill="#ddebf2" fill-opacity="0.72" stroke="#000" stroke-opacity="0.7" stroke-width="0.75"/>
<circle cx="115.9" cy="193" r="5.3" fill="#f8f1ec" fill-opacity="0.72" stroke="#000" stroke-opacity="0.7" stroke-width="0.75"/>
<circle cx="121.8" cy="196" r="5.3" fill="#fbe7db" fill-opacity="0.72" stroke="#000" stroke-opacity="0.7" stroke-width="0.75"/>
<circle cx="104.9" cy="204" r="5.3" fill="#fbe7db" fill-opacity="0.72" stroke="#000" stroke-opacity="0.7" stroke-width="0.75"/>
<circle cx="111.5" cy="207" r="5.3" fill="#f6b293" fill-opacity="0.72" stroke="#000" stroke-opacity="0.7" stroke-width="0.75"/>
<circle cx="143" cy="211.2" r="5.3" fill="#ebf1f5" fill-opacity="0.72" stroke="#000" stroke-opacity="0.7" stroke-width="0.75"/>
<circle cx="76.3" cy="232.5" r="5.3" fill="#90c4dd" fill-opacity="0.72" stroke="#000" stroke-opacity="0.7" stroke-width="0.75"/>
<circle cx="88" cy="238.9" r="5.3" fill="#d3e6f0" fill-opacity="0.72" stroke="#000" stroke-opacity="0.95" stroke-width="1.1"/>
<circle cx="80.7" cy="245.5" r="5.3" fill="#7bb6d6" fill-opacity="0.72" stroke="#000" stroke-opacity="0.95" stroke-width="1.1"/>
<circle cx="87.3" cy="250.6" r="5.3" fill="#ebf1f5" fill-opacity="0.72" stroke="#000" stroke-opacity="0.95" stroke-width="1.1"/>
<circle cx="129.8" cy="268.2" r="5.3" fill="#b8d8e9" fill-opacity="0.72" stroke="#000" stroke-opacity="0.95" stroke-width="1.1"/>
<circle cx="326.9" cy="219.4" r="5.3" fill="#b8d8e9" fill-opacity="0.72" stroke="#000" stroke-opacity="0.7" stroke-width="0.75"/>
<circle cx="304.8" cy="225.7" r="5.3" fill="#4292c3" fill-opacity="0.72" stroke="#000" stroke-opacity="0.7" stroke-width="0.75"/>
<circle cx="300.8" cy="226.5" r="5.3" fill="#4292c3" fill-opacity="0.72" stroke="#000" stroke-opacity="0.7" stroke-width="0.75"/>
<circle cx="297.2" cy="227.2" r="5.3" fill="#57a0ca" fill-opacity="0.72" stroke="#000" stroke-opacity="0.7" stroke-width="0.75"/>
<circle cx="288.2" cy="232.4" r="5.3" fill="#b8d8e9" fill-opacity="0.72" stroke="#000" stroke-opacity="0.7" stroke-width="0.75"/>
<circle cx="272.4" cy="233.5" r="5.3" fill="#f9c6ac" fill-opacity="0.72" stroke="#000" stroke-opacity="0.7" stroke-width="0.75"/>
<circle cx="276.4" cy="244.2" r="5.3" fill="#f8bc9f" fill-opacity="0.72" stroke="#000" stroke-opacity="0.7" stroke-width="0.75"/>
<circle cx="259.8" cy="254.5" r="5.3" fill="#facab2" fill-opacity="0.72" stroke="#000" stroke-opacity="0.7" stroke-width="0.75"/>
<circle cx="264.5" cy="249.8" r="5.3" fill="#c3deec" fill-opacity="0.72" stroke="#000" stroke-opacity="0.95" stroke-width="1.1"/>
<circle cx="264.2" cy="259.2" r="5.3" fill="#fae9df" fill-opacity="0.72" stroke="#000" stroke-opacity="0.95" stroke-width="1.1"/>
<circle cx="227.4" cy="275.5" r="5.3" fill="#fbe4d7" fill-opacity="0.72" stroke="#000" stroke-opacity="0.95" stroke-width="1.1"/>
<circle cx="220" cy="283.7" r="5.3" fill="#f9ece4" fill-opacity="0.72" stroke="#000" stroke-opacity="0.7" stroke-width="0.75"/>
<circle cx="234.5" cy="299.5" r="5.3" fill="#3c8abe" fill-opacity="0.72" stroke="#000" stroke-opacity="0.7" stroke-width="0.75"/>
<circle cx="240" cy="299.2" r="5.3" fill="#4292c3" fill-opacity="0.72" stroke="#000" stroke-opacity="0.7" stroke-width="0.75"/>
<circle cx="241.3" cy="305.8" r="5.3" fill="#4292c3" fill-opacity="0.72" stroke="#000" stroke-opacity="0.7" stroke-width="0.75"/>
<circle cx="186.6" cy="320" r="5.3" fill="#57a0ca" fill-opacity="0.72" stroke="#000" stroke-opacity="0.7" stroke-width="0.75"/>
<circle cx="192.3" cy="329.8" r="5.3" fill="#f5f6f7" fill-opacity="0.72" stroke="#000" stroke-opacity="0.7" stroke-width="0.75"/>
<circle cx="298.2" cy="95.4" r="5.3" fill="#d3e6f0" fill-opacity="0.72" stroke="#000" stroke-opacity="0.7" stroke-width="0.75"/>
<circle cx="241.5" cy="111.5" r="5.3" fill="#f9ece4" fill-opacity="0.72" stroke="#000" stroke-opacity="0.7" stroke-width="0.75"/>
<circle cx="242.8" cy="110.6" r="5.3" fill="#f9ece4" fill-opacity="0.72" stroke="#000" stroke-opacity="0.7" stroke-width="0.75"/>
<circle cx="309.7" cy="126.7" r="5.3" fill="#add3e6" fill-opacity="0.72" stroke="#000" stroke-opacity="0.7" stroke-width="0.75"/>
<circle cx="312.8" cy="129.6" r="5.3" fill="#add3e6" fill-opacity="0.72" stroke="#000" stroke-opacity="0.7" stroke-width="0.75"/>
<circle cx="252.7" cy="176.3" r="5.3" fill="#f8f3f1" fill-opacity="0.72" stroke="#000" stroke-opacity="0.7" stroke-width="0.75"/>
<circle cx="356.3" cy="180.1" r="5.3" fill="#c2383a" fill-opacity="0.72" stroke="#000" stroke-opacity="0.7" stroke-width="0.75"/>
<circle cx="353.4" cy="189.4" r="5.3" fill="#c3deec" fill-opacity="0.72" stroke="#000" stroke-opacity="0.95" stroke-width="1.1"/>
<circle cx="355.5" cy="197.8" r="5.3" fill="#dae9f2" fill-opacity="0.72" stroke="#000" stroke-opacity="0.7" stroke-width="0.75"/>
<circle cx="359.7" cy="202.9" r="5.3" fill="#fcd4be" fill-opacity="0.72" stroke="#000" stroke-opacity="0.7" stroke-width="0.75"/>
<circle cx="196.7" cy="215.6" r="179.4" fill="none" stroke="#000" stroke-width="2.9"/>
<text font-size="10.3" text-anchor="middle" transform="translate(196.7,26.6) rotate(0) scale(1.14,1)" y="3.6">180° W</text>
<text font-size="10.3" text-anchor="middle" transform="translate(361.2,120.6) rotate(60) scale(1.14,1)" y="3.6">120° E</text>
<text font-size="10.3" text-anchor="middle" transform="translate(361.2,310.6) rotate(120) scale(1.14,1)" y="3.6">60° E</text>
<text font-size="10.3" text-anchor="middle" transform="translate(196.7,405.2) rotate(180) scale(1.14,1)" y="3.6">0°</text>
<text font-size="10.3" text-anchor="middle" transform="translate(30.8,311.4) rotate(240) scale(1.14,1)" y="3.6">60° W</text>
<text font-size="10.3" text-anchor="middle" transform="translate(30.8,119.8) rotate(300) scale(1.14,1)" y="3.6">120° W</text>
<text transform="translate(5.6,459.59999999999997) scale(1.172,1)" font-size="14.2" font-weight="bold">1-m N density in northern peatlands (n = 76)</text>
<text transform="translate(1.0,506.79999999999995)" font-size="40" font-weight="bold">b</text>
<use href="#land" transform="translate(196.7,661.3)"/>
<rect x="178.2" y="751.0" width="37" height="16.6" rx="2.5" fill="#fff" fill-opacity="0.62"/>
<text transform="translate(196.2,763.0) scale(1.14,1)" font-size="10.3" text-anchor="middle">60° N</text>
<rect x="177.2" y="822.0" width="39" height="16.6" rx="2.5" fill="#fff" fill-opacity="0.62"/>
<text transform="translate(196.2,834.0) scale(1.14,1)" font-size="10.3" text-anchor="middle">30° N</text>
<circle cx="196.7" cy="661.3" r="168.9" stroke="#000" stroke-width="0.8" stroke-dasharray="1.6,4.4" fill="none"/>
<circle cx="196.7" cy="661.3" r="97.5" stroke="#000" stroke-width="0.8" stroke-dasharray="1.6,4.4" fill="none"/>
<line x1="196.7" y1="478.7" x2="196.7" y2="843.9" stroke="#000" stroke-width="0.75" stroke-dasharray="2.4,3.3" fill="none"/>
<line x1="38.6" y1="570.0" x2="354.8" y2="752.6" stroke="#000" stroke-width="0.75" stroke-dasharray="2.4,3.3" fill="none"/>
<line x1="38.6" y1="752.6" x2="354.8" y2="570.0" stroke="#000" stroke-width="0.75" stroke-dasharray="2.4,3.3" fill="none"/>
<circle cx="163.5" cy="580.5" r="5.3" fill="#4e9ac7" fill-opacity="0.72" stroke="#000" stroke-opacity="0.7" stroke-width="0.75"/>
<circle cx="162.4" cy="586.9" r="5.3" fill="#154f8c" fill-opacity="0.72" stroke="#000" stroke-opacity="0.95" stroke-width="1.1"/>
<circle cx="160.3" cy="599.5" r="5.3" fill="#fddbc7" fill-opacity="0.72" stroke="#000" stroke-opacity="0.7" stroke-width="0.75"/>
<circle cx="131.4" cy="611.8" r="5.3" fill="#70b0d2" fill-opacity="0.72" stroke="#000" stroke-opacity="0.95" stroke-width="1.1"/>
<circle cx="146.6" cy="615" r="5.3" fill="#920e26" fill-opacity="0.72" stroke="#000" stroke-opacity="0.7" stroke-width="0.75"/>
<circle cx="144.5" cy="611.4" r="5.3" fill="#4393c3" fill-opacity="0.72" stroke="#000" stroke-opacity="0.7" stroke-width="0.75"/>
<circle cx="94.4" cy="615.3" r="5.3" fill="#3e8dc0" fill-opacity="0.72" stroke="#000" stroke-opacity="0.7" stroke-width="0.75"/>
<circle cx="101.4" cy="636.6" r="5.3" fill="#2166ac" fill-opacity="0.72" stroke="#000" stroke-opacity="0.7" stroke-width="0.75"/>
<circle cx="103.5" cy="641.4" r="5.3" fill="#266caf" fill-opacity="0.72" stroke="#000" stroke-opacity="0.7" stroke-width="0.75"/>
<circle cx="115.6" cy="638.2" r="5.3" fill="#fddbc7" fill-opacity="0.72" stroke="#000" stroke-opacity="0.7" stroke-width="0.75"/>
<circle cx="121.6" cy="641.4" r="5.3" fill="#f2f4f6" fill-opacity="0.72" stroke="#000" stroke-opacity="0.7" stroke-width="0.75"/>
<circle cx="109" cy="646.9" r="5.3" fill="#cc4b43" fill-opacity="0.72" stroke="#000" stroke-opacity="0.7" stroke-width="0.75"/>
<circle cx="87.2" cy="645.3" r="5.3" fill="#4e9ac7" fill-opacity="0.72" stroke="#000" stroke-opacity="0.95" stroke-width="1.1"/>
<circle cx="92.4" cy="654" r="5.3" fill="#5aa1cb" fill-opacity="0.72" stroke="#000" stroke-opacity="0.7" stroke-width="0.75"/>
<circle cx="80.2" cy="691.1" r="5.3" fill="#4393c3" fill-opacity="0.72" stroke="#000" stroke-opacity="0.95" stroke-width="1.1"/>
<circle cx="130" cy="714.5" r="5.3" fill="#3e8dc0" fill-opacity="0.72" stroke="#000" stroke-opacity="0.95" stroke-width="1.1"/>
<circle cx="186.5" cy="765.5" r="5.3" fill="#3e8dc0" fill-opacity="0.72" stroke="#000" stroke-opacity="0.7" stroke-width="0.75"/>
<circle cx="192.5" cy="774.5" r="5.3" fill="#87beda" fill-opacity="0.72" stroke="#000" stroke-opacity="0.7" stroke-width="0.75"/>
<circle cx="220" cy="729" r="5.3" fill="#a4cee3" fill-opacity="0.72" stroke="#000" stroke-opacity="0.7" stroke-width="0.75"/>
<circle cx="240" cy="745.5" r="5.3" fill="#2b73b3" fill-opacity="0.72" stroke="#000" stroke-opacity="0.7" stroke-width="0.75"/>
<circle cx="241.6" cy="751.8" r="5.3" fill="#3079b6" fill-opacity="0.72" stroke="#000" stroke-opacity="0.7" stroke-width="0.75"/>
<circle cx="264" cy="695.8" r="5.3" fill="#b6d7e8" fill-opacity="0.72" stroke="#000" stroke-opacity="0.95" stroke-width="1.1"/>
<circle cx="298.4" cy="540.8" r="5.3" fill="#a4cee3" fill-opacity="0.72" stroke="#000" stroke-opacity="0.7" stroke-width="0.75"/>
<circle cx="309.7" cy="571.2" r="5.3" fill="#65a8cf" fill-opacity="0.72" stroke="#000" stroke-opacity="0.7" stroke-width="0.75"/>
<circle cx="312.6" cy="575" r="5.3" fill="#70b0d2" fill-opacity="0.72" stroke="#000" stroke-opacity="0.7" stroke-width="0.75"/>
<circle cx="356" cy="625.6" r="5.3" fill="#e7876b" fill-opacity="0.72" stroke="#000" stroke-opacity="0.7" stroke-width="0.75"/>
<circle cx="353.4" cy="634.7" r="5.3" fill="#9bcae1" fill-opacity="0.72" stroke="#000" stroke-opacity="0.95" stroke-width="1.1"/>
<circle cx="355" cy="643.6" r="5.3" fill="#fbe3d5" fill-opacity="0.72" stroke="#000" stroke-opacity="0.7" stroke-width="0.75"/>
<circle cx="359.8" cy="648.8" r="5.3" fill="#cc4b43" fill-opacity="0.72" stroke="#000" stroke-opacity="0.7" stroke-width="0.75"/>
<circle cx="196.7" cy="661.3" r="179.4" fill="none" stroke="#000" stroke-width="2.9"/>
<text font-size="10.3" text-anchor="middle" transform="translate(196.7,472.3) rotate(0) scale(1.14,1)" y="3.6">180° W</text>
<text font-size="10.3" text-anchor="middle" transform="translate(361.2,566.3) rotate(60) scale(1.14,1)" y="3.6">120° E</text>
<text font-size="10.3" text-anchor="middle" transform="translate(361.2,756.3) rotate(120) scale(1.14,1)" y="3.6">60° E</text>
<text font-size="10.3" text-anchor="middle" transform="translate(196.7,850.9) rotate(180) scale(1.14,1)" y="3.6">0°</text>
<text font-size="10.3" text-anchor="middle" transform="translate(30.8,757.1) rotate(240) scale(1.14,1)" y="3.6">60° W</text>
<text font-size="10.3" text-anchor="middle" transform="translate(30.8,565.5) rotate(300) scale(1.14,1)" y="3.6">120° W</text>
<rect x="407" y="80.2" width="19" height="276.0" fill="url(#rdbu)"/>
<line x1="407" x2="410.8" y1="356.2" y2="356.2" stroke="#fff" stroke-opacity="0.6" stroke-width="0.6"/><line x1="422.2" x2="426" y1="356.2" y2="356.2" stroke="#fff" stroke-opacity="0.6" stroke-width="0.6"/>
<text transform="translate(402.3,359.3) scale(1.08,1)" font-size="8.7" text-anchor="end">0</text>
<line x1="407" x2="410.8" y1="294" y2="294" stroke="#fff" stroke-opacity="0.6" stroke-width="0.6"/><line x1="422.2" x2="426" y1="294" y2="294" stroke="#fff" stroke-opacity="0.6" stroke-width="0.6"/>
<text transform="translate(402.3,297.1) scale(1.08,1)" font-size="8.7" text-anchor="end">25</text>
<line x1="407" x2="410.8" y1="231.8" y2="231.8" stroke="#fff" stroke-opacity="0.6" stroke-width="0.6"/><line x1="422.2" x2="426" y1="231.8" y2="231.8" stroke="#fff" stroke-opacity="0.6" stroke-width="0.6"/>
<text transform="translate(402.3,234.9) scale(1.08,1)" font-size="8.7" text-anchor="end">50</text>
<line x1="407" x2="410.8" y1="169.6" y2="169.6" stroke="#fff" stroke-opacity="0.6" stroke-width="0.6"/><line x1="422.2" x2="426" y1="169.6" y2="169.6" stroke="#fff" stroke-opacity="0.6" stroke-width="0.6"/>
<text transform="translate(402.3,172.7) scale(1.08,1)" font-size="8.7" text-anchor="end">75</text>
<line x1="407" x2="410.8" y1="107.4" y2="107.4" stroke="#fff" stroke-opacity="0.6" stroke-width="0.6"/><line x1="422.2" x2="426" y1="107.4" y2="107.4" stroke="#fff" stroke-opacity="0.6" stroke-width="0.6"/>
<text transform="translate(402.3,110.5) scale(1.08,1)" font-size="8.7" text-anchor="end">100</text>
<rect x="431" y="332.48" width="1.09" height="9.57" fill="#185595" fill-opacity="0.72"/>
<rect x="431" y="322.96" width="2.83" height="9.57" fill="#2267ad" fill-opacity="0.72"/>
<rect x="431" y="303.92" width="4.91" height="9.57" fill="#3a86bd" fill-opacity="0.72"/>
<rect x="431" y="294.40" width="14.82" height="9.57" fill="#4896c5" fill-opacity="0.72"/>
<rect x="431" y="284.88" width="24.42" height="9.57" fill="#64a8ce" fill-opacity="0.72"/>
<rect x="431" y="275.36" width="26.60" height="9.57" fill="#7fb9d7" fill-opacity="0.72"/>
<rect x="431" y="265.84" width="46.33" height="9.57" fill="#98c8e0" fill-opacity="0.72"/>
<rect x="431" y="256.32" width="64.64" height="9.57" fill="#aed3e6" fill-opacity="0.72"/>
<rect x="431" y="246.80" width="64.64" height="9.57" fill="#c4deec" fill-opacity="0.72"/>
<rect x="431" y="237.28" width="53.08" height="9.57" fill="#d6e7f1" fill-opacity="0.72"/>
<rect x="431" y="227.76" width="57.88" height="9.57" fill="#e3eef3" fill-opacity="0.72"/>
<rect x="431" y="218.24" width="47.42" height="9.57" fill="#f0f4f6" fill-opacity="0.72"/>
<rect x="431" y="208.72" width="32.48" height="9.57" fill="#f8f2ef" fill-opacity="0.72"/>
<rect x="431" y="199.20" width="21.58" height="9.57" fill="#fae9de" fill-opacity="0.72"/>
<rect x="431" y="189.68" width="13.84" height="9.57" fill="#fcdfce" fill-opacity="0.72"/>
<rect x="431" y="180.16" width="10.36" height="9.57" fill="#fbd0b9" fill-opacity="0.72"/>
<rect x="431" y="170.64" width="10.90" height="9.57" fill="#f8bda1" fill-opacity="0.72"/>
<rect x="431" y="161.12" width="3.27" height="9.57" fill="#f5ab89" fill-opacity="0.72"/>
<rect x="431" y="151.60" width="6.00" height="9.57" fill="#ed9475" fill-opacity="0.72"/>
<rect x="431" y="132.56" width="2.73" height="9.57" fill="#d86551" fill-opacity="0.72"/>
<rect x="431" y="123.04" width="2.18" height="9.57" fill="#cc4c44" fill-opacity="0.72"/>
<rect x="431" y="113.52" width="4.36" height="9.57" fill="#c03338" fill-opacity="0.72"/>
<rect x="431" y="84.96" width="1.09" height="9.57" fill="#810823" fill-opacity="0.72"/>
<line x1="427.3" x2="499" y1="66.4" y2="66.4" stroke="#000" stroke-width="1"/>
<line x1="431" x2="431" y1="63.800000000000004" y2="66.4" stroke="#000" stroke-width="0.9"/>
<text transform="translate(431,61.10000000000001)" font-size="8.6" text-anchor="middle">0</text>
<line x1="452.6" x2="452.6" y1="63.800000000000004" y2="66.4" stroke="#000" stroke-width="0.9"/>
<text transform="translate(452.6,61.10000000000001)" font-size="8.6" text-anchor="middle">20</text>
<line x1="474.3" x2="474.3" y1="63.800000000000004" y2="66.4" stroke="#000" stroke-width="0.9"/>
<text transform="translate(474.3,61.10000000000001)" font-size="8.6" text-anchor="middle">40</text>
<line x1="496" x2="496" y1="63.800000000000004" y2="66.4" stroke="#000" stroke-width="0.9"/>
<text transform="translate(496,61.10000000000001)" font-size="8.6" text-anchor="middle">60</text>
<text transform="translate(462.3,49.9) scale(1.07,1)" font-size="9" text-anchor="middle">Count</text>
<text font-size="12.2" font-weight="bold" text-anchor="middle" transform="translate(516.8,210.5) rotate(-90) scale(1.077,1)">1-m C density (kg C m<tspan dy="-4.2" font-size="8">−2</tspan><tspan dy="4.2">)</tspan></text>
<rect x="407" y="526" width="19" height="276" fill="url(#rdbu)"/>
<line x1="407" x2="410.8" y1="802" y2="802" stroke="#fff" stroke-opacity="0.6" stroke-width="0.6"/><line x1="422.2" x2="426" y1="802" y2="802" stroke="#fff" stroke-opacity="0.6" stroke-width="0.6"/>
<text transform="translate(402.3,805.1) scale(1.08,1)" font-size="8.7" text-anchor="end">0</text>
<line x1="407" x2="410.8" y1="723.3" y2="723.3" stroke="#fff" stroke-opacity="0.6" stroke-width="0.6"/><line x1="422.2" x2="426" y1="723.3" y2="723.3" stroke="#fff" stroke-opacity="0.6" stroke-width="0.6"/>
<text transform="translate(402.3,726.4) scale(1.08,1)" font-size="8.7" text-anchor="end">2</text>
<line x1="407" x2="410.8" y1="644.2" y2="644.2" stroke="#fff" stroke-opacity="0.6" stroke-width="0.6"/><line x1="422.2" x2="426" y1="644.2" y2="644.2" stroke="#fff" stroke-opacity="0.6" stroke-width="0.6"/>
<text transform="translate(402.3,647.3000000000001) scale(1.08,1)" font-size="8.7" text-anchor="end">4</text>
<line x1="407" x2="410.8" y1="565" y2="565" stroke="#fff" stroke-opacity="0.6" stroke-width="0.6"/><line x1="422.2" x2="426" y1="565" y2="565" stroke="#fff" stroke-opacity="0.6" stroke-width="0.6"/>
<text transform="translate(402.3,568.1) scale(1.08,1)" font-size="8.7" text-anchor="end">6</text>
<rect x="431" y="788.07" width="29.40" height="9.58" fill="#0e427a" fill-opacity="0.72"/>
<rect x="431" y="778.54" width="35.28" height="9.58" fill="#185594" fill-opacity="0.72"/>
<rect x="431" y="769.01" width="29.40" height="9.58" fill="#2267ad" fill-opacity="0.72"/>
<rect x="431" y="759.48" width="35.28" height="9.58" fill="#2e77b4" fill-opacity="0.72"/>
<rect x="431" y="749.95" width="23.52" height="9.58" fill="#3986bc" fill-opacity="0.72"/>
<rect x="431" y="740.42" width="64.68" height="9.58" fill="#4896c5" fill-opacity="0.72"/>
<rect x="431" y="730.89" width="35.28" height="9.58" fill="#63a7ce" fill-opacity="0.72"/>
<rect x="431" y="721.36" width="41.16" height="9.58" fill="#7eb8d7" fill-opacity="0.72"/>
<rect x="431" y="711.83" width="11.76" height="9.58" fill="#98c8e0" fill-opacity="0.72"/>
<rect x="431" y="702.30" width="35.28" height="9.58" fill="#aed3e6" fill-opacity="0.72"/>
<rect x="431" y="692.77" width="23.52" height="9.58" fill="#c3deec" fill-opacity="0.72"/>
<rect x="431" y="683.24" width="5.88" height="9.58" fill="#d6e7f1" fill-opacity="0.72"/>
<rect x="431" y="673.71" width="11.76" height="9.58" fill="#e3eef3" fill-opacity="0.72"/>
<rect x="431" y="654.65" width="11.76" height="9.58" fill="#f8f2ef" fill-opacity="0.72"/>
<rect x="431" y="635.59" width="5.88" height="9.58" fill="#fcdfce" fill-opacity="0.72"/>
<rect x="431" y="626.06" width="17.64" height="9.58" fill="#fbd0b9" fill-opacity="0.72"/>
<rect x="431" y="587.94" width="5.88" height="9.58" fill="#e37d63" fill-opacity="0.72"/>
<rect x="431" y="578.41" width="5.88" height="9.58" fill="#d86551" fill-opacity="0.72"/>
<rect x="431" y="559.35" width="5.88" height="9.58" fill="#c03338" fill-opacity="0.72"/>
<rect x="431" y="549.82" width="5.88" height="9.58" fill="#b31b2c" fill-opacity="0.72"/>
<rect x="431" y="530.76" width="5.88" height="9.58" fill="#810823" fill-opacity="0.72"/>
<line x1="427.3" x2="499" y1="512.2" y2="512.2" stroke="#000" stroke-width="1"/>
<line x1="431" x2="431" y1="509.6" y2="512.2" stroke="#000" stroke-width="0.9"/>
<text transform="translate(431,506.90000000000003)" font-size="8.6" text-anchor="middle">0</text>
<line x1="448.4" x2="448.4" y1="509.6" y2="512.2" stroke="#000" stroke-width="0.9"/>
<text transform="translate(448.4,506.90000000000003)" font-size="8.6" text-anchor="middle">2</text>
<line x1="465.9" x2="465.9" y1="509.6" y2="512.2" stroke="#000" stroke-width="0.9"/>
<text transform="translate(465.9,506.90000000000003)" font-size="8.6" text-anchor="middle">4</text>
<line x1="483.4" x2="483.4" y1="509.6" y2="512.2" stroke="#000" stroke-width="0.9"/>
<text transform="translate(483.4,506.90000000000003)" font-size="8.6" text-anchor="middle">6</text>
<text transform="translate(462.3,495.6) scale(1.07,1)" font-size="9" text-anchor="middle">Count</text>
<text font-size="12.2" font-weight="bold" text-anchor="middle" transform="translate(516.6,657) rotate(-90) scale(1.077,1)">1-m N density (kg N m<tspan dy="-4.2" font-size="8">−2</tspan><tspan dy="4.2">)</tspan></text>
<rect x="564.5" y="23.6" width="383.5" height="383.59999999999997" fill="#fff"/>
<line x1="634.5" x2="634.5" y1="23.6" y2="407.2" stroke="#e9e9e9" stroke-width="0.45"/>
<line x1="744.5" x2="744.5" y1="23.6" y2="407.2" stroke="#e9e9e9" stroke-width="0.45"/>
<line x1="854.5" x2="854.5" y1="23.6" y2="407.2" stroke="#e9e9e9" stroke-width="0.45"/>
<line x1="564.5" x2="948.0" y1="320.5" y2="320.5" stroke="#e9e9e9" stroke-width="0.45"/>
<line x1="564.5" x2="948.0" y1="192.7" y2="192.7" stroke="#e9e9e9" stroke-width="0.45"/>
<line x1="564.5" x2="948.0" y1="64.9" y2="64.9" stroke="#e9e9e9" stroke-width="0.45"/>
<line x1="579.5" x2="579.5" y1="23.6" y2="407.2" stroke="#dcdcdc" stroke-width="0.65"/>
<line x1="689.5" x2="689.5" y1="23.6" y2="407.2" stroke="#dcdcdc" stroke-width="0.65"/>
<line x1="799.5" x2="799.5" y1="23.6" y2="407.2" stroke="#dcdcdc" stroke-width="0.65"/>
<line x1="909.5" x2="909.5" y1="23.6" y2="407.2" stroke="#dcdcdc" stroke-width="0.65"/>
<line x1="564.5" x2="948.0" y1="384.4" y2="384.4" stroke="#dcdcdc" stroke-width="0.65"/>
<line x1="564.5" x2="948.0" y1="256.6" y2="256.6" stroke="#dcdcdc" stroke-width="0.65"/>
<line x1="564.5" x2="948.0" y1="128.8" y2="128.8" stroke="#dcdcdc" stroke-width="0.65"/>
<line x1="581.7" x2="828.5" y1="318.5" y2="318.5" stroke="#a6cee3" stroke-width="0.6"/>
<line x1="705.4" x2="705.4" y1="253" y2="384" stroke="#a6cee3" stroke-width="0.6"/>
<line x1="647.9" x2="700.7" y1="283.2" y2="283.2" stroke="#b2df8a" stroke-width="0.6"/>
<line x1="674.3" x2="674.3" y1="266.6" y2="299.5" stroke="#b2df8a" stroke-width="0.6"/>
<line x1="618" x2="930.5" y1="314.0" y2="314.0" stroke="#fb9a99" stroke-width="0.9"/>
<line x1="774.6" x2="774.6" y1="238" y2="389.2" stroke="#fb9a99" stroke-width="0.9"/>
<line x1="676.1" x2="734.8" y1="282.0" y2="282.0" stroke="#e31a1c" stroke-width="1.3"/>
<line x1="705.4" x2="705.4" y1="227.6" y2="335.4" stroke="#e31a1c" stroke-width="0.8"/>
<line x1="657.9" x2="810.5" y1="266.0" y2="266.0" stroke="#fdbf6f" stroke-width="1.3"/>
<line x1="734.0" x2="734.0" y1="221" y2="310.6" stroke="#fdbf6f" stroke-width="0.8"/>
<line x1="619" x2="859.7" y1="186.6" y2="186.6" stroke="#ff7f00" stroke-width="0.9"/>
<line x1="739.4" x2="739.4" y1="40.8" y2="333.2" stroke="#ff7f00" stroke-width="0.9"/>
<line x1="663" x2="870.5" y1="176.8" y2="176.8" stroke="#cab2d6" stroke-width="0.9"/>
<line x1="766.7" x2="766.7" y1="83.4" y2="270" stroke="#cab2d6" stroke-width="0.9"/>
<line x1="655.8" x2="772.6" y1="337.4" y2="337.4" stroke="#6a3d9a" stroke-width="0.9"/>
<line x1="714.4" x2="714.4" y1="335.5" y2="339.3" stroke="#6a3d9a" stroke-width="0.7"/>
<line x1="608.8" x2="896" y1="266.8" y2="266.8" stroke="#ffff99" stroke-width="0.9"/>
<line x1="754.5" x2="754.5" y1="216" y2="318.5" stroke="#ffff99" stroke-width="0.9"/>
<line x1="593.8" x2="769.8" y1="302.3" y2="302.3" stroke="#b15928" stroke-width="0.8"/>
<line x1="681.8" x2="681.8" y1="280" y2="324.8" stroke="#b15928" stroke-width="1.0"/>
<circle cx="705.4" cy="318.5" r="6.3" fill="#a6cee3"/>
<circle cx="587.4" cy="358.3" r="6.3" fill="#1f78b4"/>
<circle cx="674.3" cy="283.2" r="6.3" fill="#b2df8a"/>
<circle cx="774.6" cy="314.0" r="6.3" fill="#fb9a99"/>
<circle cx="705.4" cy="282.0" r="6.3" fill="#e31a1c"/>
<circle cx="734.0" cy="266.0" r="6.3" fill="#fdbf6f"/>
<circle cx="739.4" cy="186.6" r="6.3" fill="#ff7f00"/>
<circle cx="766.7" cy="176.8" r="6.3" fill="#cab2d6"/>
<circle cx="714.4" cy="337.4" r="6.3" fill="#6a3d9a"/>
<circle cx="754.5" cy="266.8" r="6.3" fill="#ffff99"/>
<circle cx="681.8" cy="302.3" r="6.3" fill="#b15928"/>
<rect x="564.5" y="23.6" width="383.5" height="383.59999999999997" fill="none" stroke="#222" stroke-width="1.0"/>
<line x1="579.5" x2="579.5" y1="407.2" y2="410.2" stroke="#333" stroke-width="0.9"/>
<text transform="translate(579.5,419.8) scale(1.08,1)" font-size="9.8" text-anchor="middle" fill="#4d4d4d">20</text>
<line x1="689.5" x2="689.5" y1="407.2" y2="410.2" stroke="#333" stroke-width="0.9"/>
<text transform="translate(689.5,419.8) scale(1.08,1)" font-size="9.8" text-anchor="middle" fill="#4d4d4d">40</text>
<line x1="799.5" x2="799.5" y1="407.2" y2="410.2" stroke="#333" stroke-width="0.9"/>
<text transform="translate(799.5,419.8) scale(1.08,1)" font-size="9.8" text-anchor="middle" fill="#4d4d4d">60</text>
<line x1="909.5" x2="909.5" y1="407.2" y2="410.2" stroke="#333" stroke-width="0.9"/>
<text transform="translate(909.5,419.8) scale(1.08,1)" font-size="9.8" text-anchor="middle" fill="#4d4d4d">80</text>
<line x1="561.5" x2="564.5" y1="384.4" y2="384.4" stroke="#333" stroke-width="0.9"/>
<text transform="translate(559.2,387.9) scale(1.08,1)" font-size="9.8" text-anchor="end" fill="#4d4d4d">0</text>
<line x1="561.5" x2="564.5" y1="256.6" y2="256.6" stroke="#333" stroke-width="0.9"/>
<text transform="translate(559.2,260.1) scale(1.08,1)" font-size="9.8" text-anchor="end" fill="#4d4d4d">2</text>
<line x1="561.5" x2="564.5" y1="128.8" y2="128.8" stroke="#333" stroke-width="0.9"/>
<text transform="translate(559.2,132.3) scale(1.08,1)" font-size="9.8" text-anchor="end" fill="#4d4d4d">4</text>
<text transform="translate(565.4,14.000000000000002) scale(1.172,1)" font-size="14.2" font-weight="bold">1-m C and N densities in northern peatlands</text>
<text transform="translate(574.8,56)" font-size="38.5" font-weight="bold">c</text>
<text font-size="12.2" font-weight="bold" text-anchor="middle" transform="translate(759.6,434.5) scale(1.077,1)">C density (kg C m<tspan dy="-4.2" font-size="8">−2</tspan><tspan dy="4.2">)</tspan></text>
<text font-size="12.2" font-weight="bold" text-anchor="middle" transform="translate(547,211.8) rotate(-90) scale(1.077,1)">N density (kg N m<tspan dy="-4.2" font-size="8">−2</tspan><tspan dy="4.2">)</tspan></text>
<rect x="564.5" y="468.9" width="382.9" height="384.1" fill="#fff"/>
<line x1="663.8" x2="663.8" y1="468.9" y2="853.0" stroke="#e9e9e9" stroke-width="0.45"/>
<line x1="783.2" x2="783.2" y1="468.9" y2="853.0" stroke="#e9e9e9" stroke-width="0.45"/>
<line x1="902.6" x2="902.6" y1="468.9" y2="853.0" stroke="#e9e9e9" stroke-width="0.45"/>
<line x1="564.5" x2="947.4" y1="770.7" y2="770.7" stroke="#e9e9e9" stroke-width="0.45"/>
<line x1="564.5" x2="947.4" y1="688.0" y2="688.0" stroke="#e9e9e9" stroke-width="0.45"/>
<line x1="564.5" x2="947.4" y1="605.4" y2="605.4" stroke="#e9e9e9" stroke-width="0.45"/>
<line x1="564.5" x2="947.4" y1="522.8" y2="522.8" stroke="#e9e9e9" stroke-width="0.45"/>
<line x1="604.1" x2="604.1" y1="468.9" y2="853.0" stroke="#dcdcdc" stroke-width="0.65"/>
<line x1="723.5" x2="723.5" y1="468.9" y2="853.0" stroke="#dcdcdc" stroke-width="0.65"/>
<line x1="842.9" x2="842.9" y1="468.9" y2="853.0" stroke="#dcdcdc" stroke-width="0.65"/>
<line x1="564.5" x2="947.4" y1="812.0" y2="812.0" stroke="#dcdcdc" stroke-width="0.65"/>
<line x1="564.5" x2="947.4" y1="729.4" y2="729.4" stroke="#dcdcdc" stroke-width="0.65"/>
<line x1="564.5" x2="947.4" y1="646.7" y2="646.7" stroke="#dcdcdc" stroke-width="0.65"/>
<line x1="564.5" x2="947.4" y1="564.1" y2="564.1" stroke="#dcdcdc" stroke-width="0.65"/>
<line x1="564.5" x2="947.4" y1="481.4" y2="481.4" stroke="#dcdcdc" stroke-width="0.65"/>
<line x1="753.7" x2="859.1" y1="608.2" y2="608.2" stroke="#F8766D" stroke-width="0.8"/>
<line x1="806.6" x2="806.6" y1="551.4" y2="664.6" stroke="#F8766D" stroke-width="1.3"/>
<line x1="777.2" x2="902.6" y1="555.6" y2="555.6" stroke="#CD9600" stroke-width="0.8"/>
<line x1="839.3" x2="839.3" y1="486.1" y2="623.9" stroke="#CD9600" stroke-width="0.8"/>
<line x1="778" x2="892.6" y1="576.0" y2="576.0" stroke="#7CAE00" stroke-width="1.2"/>
<line x1="835.1" x2="835.1" y1="522.1" y2="628.8" stroke="#7CAE00" stroke-width="0.8"/>
<line x1="669" x2="895.1" y1="728.6" y2="728.6" stroke="#00BE67" stroke-width="1.0"/>
<line x1="782.1" x2="782.1" y1="676.5" y2="781.6" stroke="#00BE67" stroke-width="1.2"/>
<line x1="860.9" x2="918" y1="609.0" y2="609.0" stroke="#00BFC4" stroke-width="1.2"/>
<line x1="889.2" x2="889.2" y1="584.9" y2="632.6" stroke="#00BFC4" stroke-width="0.9"/>
<line x1="589.8" x2="780.4" y1="749.2" y2="749.2" stroke="#00A9FF" stroke-width="1.3"/>
<line x1="685.0" x2="685.0" y1="662.8" y2="835.6" stroke="#00A9FF" stroke-width="1.8"/>
<line x1="656.3" x2="760.5" y1="722.0" y2="722.0" stroke="#C77CFF" stroke-width="0.9"/>
<line x1="708.4" x2="708.4" y1="658.6" y2="785.2" stroke="#C77CFF" stroke-width="0.8"/>
<line x1="697.2" x2="839.3" y1="754.5" y2="754.5" stroke="#FF61CC" stroke-width="0.8"/>
<line x1="768.4" x2="768.4" y1="730" y2="779.3" stroke="#FF61CC" stroke-width="0.9"/>
<line x1="714" x2="927.6" y1="721.9" y2="721.9" stroke="#7f7f7f" stroke-width="1.2"/>
<line x1="816.5" x2="816.5" y1="658.5" y2="784.5" stroke="#7f7f7f" stroke-width="0.8"/>
<line x1="581.8" x2="904.9" y1="777.3" y2="777.3" stroke="#7f7f7f" stroke-width="0.8"/>
<line x1="743.3" x2="743.3" y1="737" y2="818" stroke="#7f7f7f" stroke-width="0.8"/>
<line x1="649.5" x2="807.8" y1="775.0" y2="775.0" stroke="#7f7f7f" stroke-width="1.2"/>
<line x1="750.0" x2="750.0" y1="749.2" y2="800.1" stroke="#7f7f7f" stroke-width="1.3"/>
<line x1="654" x2="803.3" y1="745.1" y2="745.1" stroke="#7f7f7f" stroke-width="0.8"/>
<line x1="728.5" x2="728.5" y1="698.7" y2="791.5" stroke="#7f7f7f" stroke-width="0.8"/>
<line x1="644.9" x2="761.8" y1="781.3" y2="781.3" stroke="#7f7f7f" stroke-width="0.8"/>
<line x1="703.5" x2="703.5" y1="757.9" y2="804.5" stroke="#7f7f7f" stroke-width="0.8"/>
<line x1="688" x2="798.4" y1="749.0" y2="749.0" stroke="#7f7f7f" stroke-width="0.8"/>
<line x1="743.0" x2="743.0" y1="709.8" y2="788" stroke="#7f7f7f" stroke-width="0.9"/>
<line x1="764.8" x2="843" y1="623.9" y2="623.9" stroke="#7f7f7f" stroke-width="0.8"/>
<line x1="804.0" x2="804.0" y1="568" y2="680.4" stroke="#7f7f7f" stroke-width="0.8"/>
<line x1="723.2" x2="930.7" y1="736.8" y2="736.8" stroke="#7f7f7f" stroke-width="1.2"/>
<line x1="827.1" x2="827.1" y1="671.8" y2="801.4" stroke="#7f7f7f" stroke-width="1.2"/>
<line x1="650" x2="736" y1="775.9" y2="775.9" stroke="#7f7f7f" stroke-width="0.8"/>
<line x1="692.8" x2="692.8" y1="756.7" y2="795.6" stroke="#7f7f7f" stroke-width="0.8"/>
<line x1="673.6" x2="880.9" y1="734.4" y2="734.4" stroke="#7f7f7f" stroke-width="0.8"/>
<line x1="777.4" x2="777.4" y1="670" y2="798" stroke="#7f7f7f" stroke-width="0.9"/>
<path d="M806.6,598.6L814.6,615.2L798.6,615.2ZM806.6,617.8000000000001L814.6,601.2L798.6,601.2Z" stroke="#F8766D" stroke-width="0.8" fill="none"/>
<path d="M839.3,546.0L847.3,562.6L831.3,562.6ZM839.3,565.2L847.3,548.6L831.3,548.6Z" stroke="#CD9600" stroke-width="0.8" fill="none"/>
<path d="M835.1,566.4L843.1,583.0L827.1,583.0ZM835.1,585.6L843.1,569.0L827.1,569.0Z" stroke="#7CAE00" stroke-width="0.8" fill="none"/>
<path d="M775.9,722.4H788.3000000000001V734.8000000000001H775.9ZM775.9,722.4L788.3000000000001,734.8000000000001M775.9,734.8000000000001L788.3000000000001,722.4" stroke="#00BE67" stroke-width="0.8" fill="none"/>
<path d="M889.2,599.4L897.2,616.0L881.2,616.0ZM889.2,618.6L897.2,602.0L881.2,602.0Z" stroke="#00BFC4" stroke-width="0.8" fill="none"/>
<path d="M685.0,739.6L693.0,756.2L677.0,756.2ZM685.0,758.8000000000001L693.0,742.2L677.0,742.2Z" stroke="#00A9FF" stroke-width="0.8" fill="none"/>
<path d="M702.1999999999999,715.8H714.6V728.2H702.1999999999999ZM702.1999999999999,715.8L714.6,728.2M702.1999999999999,728.2L714.6,715.8" stroke="#C77CFF" stroke-width="0.8" fill="none"/>
<path d="M762.1999999999999,748.3H774.6V760.7H762.1999999999999ZM762.1999999999999,748.3L774.6,760.7M762.1999999999999,760.7L774.6,748.3" stroke="#FF61CC" stroke-width="0.8" fill="none"/>
<rect x="810.3" y="715.6999999999999" width="12.4" height="12.4" stroke="#7f7f7f" stroke-width="0.8" fill="none"/>
<circle cx="743.3" cy="777.3" r="6.4" stroke="#7f7f7f" stroke-width="0.8" fill="none"/>
<path d="M750.0,765.8L758.3,780.2L741.7,780.2Z" stroke="#7f7f7f" stroke-width="0.8" fill="none"/>
<path d="M722.3,738.9L734.7,751.3000000000001M722.3,751.3000000000001L734.7,738.9" stroke="#7f7f7f" stroke-width="0.8" fill="none"/>
<path d="M703.5,773.0L711.8,781.3L703.5,789.5999999999999L695.2,781.3Z" stroke="#7f7f7f" stroke-width="0.8" fill="none"/>
<path d="M743.0,758.2L751.3,743.8L734.7,743.8Z" stroke="#7f7f7f" stroke-width="0.8" fill="none"/>
<path d="M804.0,614.3L812.0,630.9L796.0,630.9ZM804.0,633.5L812.0,616.9L796.0,616.9Z" stroke="#7f7f7f" stroke-width="0.8" fill="none"/>
<circle cx="827.1" cy="736.8" r="6.4" stroke="#7f7f7f" stroke-width="0.8" fill="none"/><path d="M820.9,730.6L833.3,743.0M820.9,743.0L833.3,730.6" stroke="#7f7f7f" stroke-width="0.8" fill="none"/>
<path d="M686.5999999999999,769.6999999999999H699.0V782.1H686.5999999999999ZM692.8,769.6999999999999L699.0,782.1L686.5999999999999,782.1Z" stroke="#7f7f7f" stroke-width="0.8" fill="none"/>
<rect x="771.1999999999999" y="728.1999999999999" width="12.4" height="12.4" fill="#7f7f7f"/>
<rect x="564.5" y="468.9" width="382.9" height="384.1" fill="none" stroke="#222" stroke-width="1.0"/>
<line x1="604.1" x2="604.1" y1="853.0" y2="856.0" stroke="#333" stroke-width="0.9"/>
<text transform="translate(604.1,865.6) scale(1.08,1)" font-size="9.8" text-anchor="middle" fill="#4d4d4d">0</text>
<line x1="723.5" x2="723.5" y1="853.0" y2="856.0" stroke="#333" stroke-width="0.9"/>
<text transform="translate(723.5,865.6) scale(1.08,1)" font-size="9.8" text-anchor="middle" fill="#4d4d4d">40</text>
<line x1="842.9" x2="842.9" y1="853.0" y2="856.0" stroke="#333" stroke-width="0.9"/>
<text transform="translate(842.9,865.6) scale(1.08,1)" font-size="9.8" text-anchor="middle" fill="#4d4d4d">80</text>
<line x1="561.5" x2="564.5" y1="812.0" y2="812.0" stroke="#333" stroke-width="0.9"/>
<text transform="translate(559.2,815.5) scale(1.08,1)" font-size="9.8" text-anchor="end" fill="#4d4d4d">0</text>
<line x1="561.5" x2="564.5" y1="729.4" y2="729.4" stroke="#333" stroke-width="0.9"/>
<text transform="translate(559.2,732.9) scale(1.08,1)" font-size="9.8" text-anchor="end" fill="#4d4d4d">2</text>
<line x1="561.5" x2="564.5" y1="646.7" y2="646.7" stroke="#333" stroke-width="0.9"/>
<text transform="translate(559.2,650.2) scale(1.08,1)" font-size="9.8" text-anchor="end" fill="#4d4d4d">4</text>
<line x1="561.5" x2="564.5" y1="564.1" y2="564.1" stroke="#333" stroke-width="0.9"/>
<text transform="translate(559.2,567.6) scale(1.08,1)" font-size="9.8" text-anchor="end" fill="#4d4d4d">6</text>
<line x1="561.5" x2="564.5" y1="481.4" y2="481.4" stroke="#333" stroke-width="0.9"/>
<text transform="translate(559.2,484.9) scale(1.08,1)" font-size="9.8" text-anchor="end" fill="#4d4d4d">8</text>
<text transform="translate(565.4,459.29999999999995) scale(1.172,1)" font-size="14.2" font-weight="bold">C and N densities in northern peatlands</text>
<text transform="translate(575.6999999999999,506.8)" font-size="39.5" font-weight="bold">d</text>
<text font-size="12.2" font-weight="bold" text-anchor="middle" transform="translate(750.6,880.5) scale(1.077,1)">C density (× 10<tspan dy="-4.2" font-size="8">−3</tspan><tspan dy="4.2"> g cm</tspan><tspan dy="-4.2" font-size="8">−3</tspan><tspan dy="4.2">)</tspan></text>
<text font-size="12.2" font-weight="bold" text-anchor="middle" transform="translate(547,668) rotate(-90) scale(1.077,1)">N density (× 10<tspan dy="-4.2" font-size="8">−3</tspan><tspan dy="4.2"> g cm</tspan><tspan dy="-4.2" font-size="8">−3</tspan><tspan dy="4.2">)</tspan></text>
<text transform="translate(967.5,122.3) scale(1.07,1)" font-size="11.6">Region</text>
<circle cx="975" cy="137.6" r="6.6" fill="#a6cee3"/>
<text transform="translate(989,140.9) scale(1.07,1)" font-size="9.3">Alaska</text>
<circle cx="975" cy="153.4" r="6.6" fill="#1f78b4"/>
<text transform="translate(989,156.7) scale(1.07,1)" font-size="9.3">Continental Europe</text>
<circle cx="975" cy="169.2" r="6.6" fill="#b2df8a"/>
<text transform="translate(989,172.5) scale(1.07,1)" font-size="9.3">East Aisa</text>
<circle cx="975" cy="185.1" r="6.6" fill="#33a02c"/>
<text transform="translate(989,188.4) scale(1.07,1)" font-size="9.3">East Russia</text>
<circle cx="975" cy="200.9" r="6.6" fill="#fb9a99"/>
<text transform="translate(989,204.2) scale(1.07,1)" font-size="9.3">Fennoscandia</text>
<circle cx="975" cy="216.7" r="6.6" fill="#e31a1c"/>
<text transform="translate(989,220.0) scale(1.07,1)" font-size="9.3">Greenland</text>
<circle cx="975" cy="232.5" r="6.6" fill="#fdbf6f"/>
<text transform="translate(989,235.8) scale(1.07,1)" font-size="9.3">Hudson Bay Lowland &amp; East Canada</text>
<circle cx="975" cy="248.3" r="6.6" fill="#ff7f00"/>
<text transform="translate(989,251.6) scale(1.07,1)" font-size="9.3">North Canada</text>
<circle cx="975" cy="264.2" r="6.6" fill="#cab2d6"/>
<text transform="translate(989,267.5) scale(1.07,1)" font-size="9.3">Qinghai−Tibet Plateau</text>
<circle cx="975" cy="280.0" r="6.6" fill="#6a3d9a"/>
<text transform="translate(989,283.3) scale(1.07,1)" font-size="9.3">West Canada</text>
<circle cx="975" cy="295.8" r="6.6" fill="#ffff99"/>
<text transform="translate(989,299.1) scale(1.07,1)" font-size="9.3">West Siberia Lowland &amp; West Russia</text>
<circle cx="975" cy="311.6" r="6.6" fill="#b15928"/>
<text transform="translate(989,314.9) scale(1.07,1)" font-size="9.3">Western European Islands</text>
<text transform="translate(972.5,483.3) scale(1.07,1)" font-size="11.6">Name</text>
<circle cx="979.8" cy="498.4" r="6.6" fill="#F8766D"/>
<text transform="translate(994,501.7) scale(1.07,1)" font-size="9.3">CD21C1</text>
<circle cx="979.8" cy="514.2" r="6.6" fill="#CD9600"/>
<text transform="translate(994,517.5) scale(1.07,1)" font-size="9.3">CD21C4</text>
<circle cx="979.8" cy="530.0" r="6.6" fill="#7CAE00"/>
<text transform="translate(994,533.3) scale(1.07,1)" font-size="9.3">CD21C6</text>
<circle cx="979.8" cy="545.9" r="6.6" fill="#00BE67"/>
<text transform="translate(994,549.2) scale(1.07,1)" font-size="9.3">Herbaceous</text>
<circle cx="979.8" cy="561.7" r="6.6" fill="#00BFC4"/>
<text transform="translate(994,565.0) scale(1.07,1)" font-size="9.3">HY2014</text>
<circle cx="979.8" cy="577.5" r="6.6" fill="#00A9FF"/>
<text transform="translate(994,580.8) scale(1.07,1)" font-size="9.3">HYLK1</text>
<circle cx="979.8" cy="593.3" r="6.6" fill="#C77CFF"/>
<text transform="translate(994,596.6) scale(1.07,1)" font-size="9.3">Sphagnum</text>
<circle cx="979.8" cy="609.1" r="6.6" fill="#FF61CC"/>
<text transform="translate(994,612.4) scale(1.07,1)" font-size="9.3">Woody</text>
<circle cx="979.8" cy="625.0" r="6.6" fill="#7f7f7f"/>
<text transform="translate(994,628.3) scale(1.07,1)" font-size="9.3">NA</text>
<text transform="translate(972.3,667.8) scale(1.07,1)" font-size="11.6">Region</text>
<rect x="973.0999999999999" y="676.5999999999999" width="12.4" height="12.4" stroke="#000" stroke-width="0.75" fill="none"/>
<text transform="translate(994,686.1) scale(1.07,1)" font-size="9.3">Alaska</text>
<circle cx="979.3" cy="698.8" r="6.4" stroke="#000" stroke-width="0.75" fill="none"/>
<text transform="translate(994,702.1) scale(1.07,1)" font-size="9.3">Continental Europe</text>
<path d="M979.3,710.0L987.5999999999999,724.4000000000001L971.0,724.4000000000001Z" stroke="#000" stroke-width="0.75" fill="none"/>
<text transform="translate(994,720.5) scale(1.07,1)" font-size="9.3">Eastern Canada and United States</text>
<path d="M973.0999999999999,727.0L985.5,739.4000000000001M973.0999999999999,739.4000000000001L985.5,727.0" stroke="#000" stroke-width="0.75" fill="none"/>
<text transform="translate(994,736.5) scale(1.07,1)" font-size="9.3">Eastern Russia and Asia</text>
<path d="M979.3,740.6L987.5999999999999,748.9L979.3,757.1999999999999L971.0,748.9Z" stroke="#000" stroke-width="0.75" fill="none"/>
<text transform="translate(994,752.2) scale(1.07,1)" font-size="9.3">Fennoscandia</text>
<path d="M979.3,774.5L987.5999999999999,760.0999999999999L971.0,760.0999999999999Z" stroke="#000" stroke-width="0.75" fill="none"/>
<text transform="translate(994,770.6) scale(1.07,1)" font-size="9.3">Hudson Bay and James Bay</text>
<path d="M973.0999999999999,780.4H985.5V792.8000000000001H973.0999999999999ZM973.0999999999999,780.4L985.5,792.8000000000001M973.0999999999999,792.8000000000001L985.5,780.4" stroke="#000" stroke-width="0.75" fill="none"/>
<text transform="translate(994,789.9) scale(1.07,1)" font-size="9.3">Plant</text>
<path d="M979.3,795.4L987.3,812.0L971.3,812.0ZM979.3,814.6L987.3,798.0L971.3,798.0Z" stroke="#000" stroke-width="0.75" fill="none"/>
<text transform="translate(994,808.3) scale(1.07,1)" font-size="9.3">Qinghai−Tibet Plateau</text>
<circle cx="979.3" cy="824.2" r="6.4" stroke="#000" stroke-width="0.75" fill="none"/><path d="M973.1,818.0L985.5,830.4M973.1,830.4L985.5,818.0" stroke="#000" stroke-width="0.75" fill="none"/>
<text transform="translate(994,827.5) scale(1.07,1)" font-size="9.3">Western Canada</text>
<path d="M973.0999999999999,834.0H985.5V846.4000000000001H973.0999999999999ZM979.3,834.0L985.5,846.4000000000001L973.0999999999999,846.4000000000001Z" stroke="#000" stroke-width="0.75" fill="none"/>
<text transform="translate(994,843.5) scale(1.07,1)" font-size="9.3">Western European Islands</text>
<rect x="973.0999999999999" y="849.6999999999999" width="12.4" height="12.4" fill="#000"/>
<text transform="translate(994,859.2) scale(1.07,1)" font-size="9.3">Western Russia</text>
</svg>
</body></html>
